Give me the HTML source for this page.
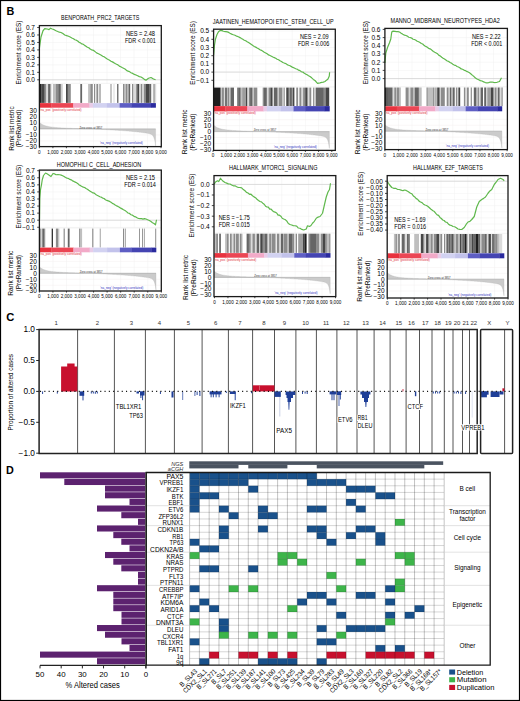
<!DOCTYPE html>
<html><head><meta charset="utf-8"><style>html,body{margin:0;padding:0;background:#fff;overflow:hidden}svg{display:block}text{font-family:"Liberation Sans",sans-serif}</style></head><body>
<svg width="520" height="701" viewBox="0 0 520 701">
<rect x="0" y="0" width="520" height="701" fill="#fff"/>
<line x1="52.91" y1="26.6" x2="52.91" y2="83.8" stroke="#f1f1f1" stroke-width="0.5"/>
<line x1="52.91" y1="108.2" x2="52.91" y2="146.6" stroke="#f1f1f1" stroke-width="0.5"/>
<line x1="66.42" y1="26.6" x2="66.42" y2="83.8" stroke="#f1f1f1" stroke-width="0.5"/>
<line x1="66.42" y1="108.2" x2="66.42" y2="146.6" stroke="#f1f1f1" stroke-width="0.5"/>
<line x1="79.93" y1="26.6" x2="79.93" y2="83.8" stroke="#f1f1f1" stroke-width="0.5"/>
<line x1="79.93" y1="108.2" x2="79.93" y2="146.6" stroke="#f1f1f1" stroke-width="0.5"/>
<line x1="93.44" y1="26.6" x2="93.44" y2="83.8" stroke="#f1f1f1" stroke-width="0.5"/>
<line x1="93.44" y1="108.2" x2="93.44" y2="146.6" stroke="#f1f1f1" stroke-width="0.5"/>
<line x1="106.96" y1="26.6" x2="106.96" y2="83.8" stroke="#f1f1f1" stroke-width="0.5"/>
<line x1="106.96" y1="108.2" x2="106.96" y2="146.6" stroke="#f1f1f1" stroke-width="0.5"/>
<line x1="120.47" y1="26.6" x2="120.47" y2="83.8" stroke="#f1f1f1" stroke-width="0.5"/>
<line x1="120.47" y1="108.2" x2="120.47" y2="146.6" stroke="#f1f1f1" stroke-width="0.5"/>
<line x1="133.98" y1="26.6" x2="133.98" y2="83.8" stroke="#f1f1f1" stroke-width="0.5"/>
<line x1="133.98" y1="108.2" x2="133.98" y2="146.6" stroke="#f1f1f1" stroke-width="0.5"/>
<line x1="147.49" y1="26.6" x2="147.49" y2="83.8" stroke="#f1f1f1" stroke-width="0.5"/>
<line x1="147.49" y1="108.2" x2="147.49" y2="146.6" stroke="#f1f1f1" stroke-width="0.5"/>
<line x1="39.4" y1="79.8" x2="161.3" y2="79.8" stroke="#f1f1f1" stroke-width="0.5"/>
<line x1="39.4" y1="72.33" x2="161.3" y2="72.33" stroke="#f1f1f1" stroke-width="0.5"/>
<line x1="39.4" y1="64.86" x2="161.3" y2="64.86" stroke="#f1f1f1" stroke-width="0.5"/>
<line x1="39.4" y1="57.39" x2="161.3" y2="57.39" stroke="#f1f1f1" stroke-width="0.5"/>
<line x1="39.4" y1="49.92" x2="161.3" y2="49.92" stroke="#f1f1f1" stroke-width="0.5"/>
<line x1="39.4" y1="42.45" x2="161.3" y2="42.45" stroke="#f1f1f1" stroke-width="0.5"/>
<line x1="39.4" y1="34.98" x2="161.3" y2="34.98" stroke="#f1f1f1" stroke-width="0.5"/>
<line x1="39.4" y1="27.51" x2="161.3" y2="27.51" stroke="#f1f1f1" stroke-width="0.5"/>
<line x1="39.4" y1="79.8" x2="161.3" y2="79.8" stroke="#c8c8c8" stroke-width="0.6"/>
<line x1="39.4" y1="116.9" x2="161.3" y2="116.9" stroke="#f3eeee" stroke-width="0.5"/>
<line x1="39.4" y1="122.9" x2="161.3" y2="122.9" stroke="#f3eeee" stroke-width="0.5"/>
<line x1="39.4" y1="134.9" x2="161.3" y2="134.9" stroke="#f3eeee" stroke-width="0.5"/>
<line x1="39.4" y1="140.9" x2="161.3" y2="140.9" stroke="#f3eeee" stroke-width="0.5"/>
<line x1="39.4" y1="83.3" x2="161.3" y2="83.3" stroke="#e4e4e4" stroke-width="0.5"/>
<rect x="39.4" y="84" width="2.1" height="18.9" fill="#000" fill-opacity="0.88"/>
<rect x="41.5" y="84" width="3.1" height="18.9" fill="#000" fill-opacity="0.72"/>
<rect x="44.6" y="84" width="1.5" height="18.9" fill="#000" fill-opacity="0.45"/>
<rect x="46.1" y="84" width="2" height="18.9" fill="#000" fill-opacity="0.14"/>
<rect x="48.1" y="84" width="2.4" height="18.9" fill="#000" fill-opacity="0.6"/>
<rect x="50.5" y="84" width="1.2" height="18.9" fill="#000" fill-opacity="0.14"/>
<rect x="52.9" y="84" width="3" height="18.9" fill="#000" fill-opacity="0.25"/>
<rect x="55.9" y="84" width="2.4" height="18.9" fill="#000" fill-opacity="0.45"/>
<rect x="58.3" y="84" width="2.3" height="18.9" fill="#000" fill-opacity="0.6"/>
<rect x="60.6" y="84" width="0.6" height="18.9" fill="#000" fill-opacity="0.45"/>
<rect x="61.2" y="84" width="1.8" height="18.9" fill="#000" fill-opacity="0.14"/>
<rect x="66" y="84" width="1.8" height="18.9" fill="#000" fill-opacity="0.72"/>
<rect x="67.8" y="84" width="3" height="18.9" fill="#000" fill-opacity="0.45"/>
<rect x="80.3" y="84" width="1.8" height="18.9" fill="#000" fill-opacity="0.6"/>
<rect x="88.1" y="84" width="2.3" height="18.9" fill="#000" fill-opacity="0.25"/>
<rect x="90.4" y="84" width="2.4" height="18.9" fill="#000" fill-opacity="0.45"/>
<rect x="94" y="84" width="1.2" height="18.9" fill="#000" fill-opacity="0.45"/>
<rect x="96.4" y="84" width="1.8" height="18.9" fill="#000" fill-opacity="0.45"/>
<rect x="99.4" y="84" width="1.2" height="18.9" fill="#000" fill-opacity="0.45"/>
<rect x="110.5" y="84" width="1" height="18.9" fill="#000" fill-opacity="0.45"/>
<rect x="113.5" y="84" width="1" height="18.9" fill="#000" fill-opacity="0.14"/>
<rect x="117.1" y="84" width="1.2" height="18.9" fill="#000" fill-opacity="0.6"/>
<rect x="118.3" y="84" width="0.7" height="18.9" fill="#000" fill-opacity="0.14"/>
<rect x="123" y="84" width="1.2" height="18.9" fill="#000" fill-opacity="0.45"/>
<rect x="124.2" y="84" width="1.8" height="18.9" fill="#000" fill-opacity="0.25"/>
<rect x="126" y="84" width="1.2" height="18.9" fill="#000" fill-opacity="0.45"/>
<rect x="127.2" y="84" width="0.8" height="18.9" fill="#000" fill-opacity="0.25"/>
<rect x="128.4" y="84" width="1.8" height="18.9" fill="#000" fill-opacity="0.6"/>
<rect x="132" y="84" width="1.2" height="18.9" fill="#000" fill-opacity="0.45"/>
<rect x="133.2" y="84" width="2.9" height="18.9" fill="#000" fill-opacity="0.14"/>
<rect x="136.1" y="84" width="1.2" height="18.9" fill="#000" fill-opacity="0.45"/>
<rect x="137.3" y="84" width="1.8" height="18.9" fill="#000" fill-opacity="0.72"/>
<rect x="139.1" y="84" width="1.8" height="18.9" fill="#000" fill-opacity="0.14"/>
<rect x="140.9" y="84" width="1.2" height="18.9" fill="#000" fill-opacity="0.45"/>
<rect x="142.1" y="84" width="1.8" height="18.9" fill="#000" fill-opacity="0.14"/>
<rect x="143.9" y="84" width="1.8" height="18.9" fill="#000" fill-opacity="0.45"/>
<rect x="145.7" y="84" width="3.6" height="18.9" fill="#000" fill-opacity="0.72"/>
<rect x="149.3" y="84" width="1.7" height="18.9" fill="#000" fill-opacity="0.6"/>
<rect x="151" y="84" width="1.2" height="18.9" fill="#000" fill-opacity="0.14"/>
<rect x="153.4" y="84" width="1.2" height="18.9" fill="#000" fill-opacity="0.45"/>
<rect x="154.6" y="84" width="1.6" height="18.9" fill="#000" fill-opacity="0.14"/>
<rect x="39.6" y="103.1" width="11.9" height="4.6" fill="#e8323e"/>
<rect x="51.2" y="103.1" width="22.34" height="4.6" fill="#eb4654"/>
<rect x="73.24" y="103.1" width="16.54" height="4.6" fill="#f2aac8"/>
<rect x="89.48" y="103.1" width="3.78" height="4.6" fill="#e8cce8"/>
<rect x="92.96" y="103.1" width="14.22" height="4.6" fill="#d2d2f1"/>
<rect x="106.88" y="103.1" width="13.06" height="4.6" fill="#c2c2eb"/>
<rect x="119.64" y="103.1" width="11.9" height="4.6" fill="#5e5ec4"/>
<rect x="131.24" y="103.1" width="20.02" height="4.6" fill="#4444b2"/>
<rect x="150.96" y="103.1" width="4.94" height="4.6" fill="#2a2a9e"/>
<polygon points="39.6,128.9 39.6,122.6 40.13,123.04 40.65,123.44 41.18,123.8 41.71,124.13 42.24,124.43 42.76,124.71 43.29,124.96 43.82,125.18 44.35,125.39 44.87,125.58 45.4,125.76 45.93,125.92 46.45,126.06 46.98,126.2 47.51,126.32 48.04,126.44 48.56,126.55 49.09,126.65 49.62,126.74 50.15,126.83 50.67,126.91 51.2,126.99 51.73,127.06 52.25,127.13 52.78,127.19 53.31,127.25 53.84,127.31 54.36,127.36 54.89,127.41 55.42,127.46 55.95,127.51 56.47,127.55 57,127.6 57.53,127.64 58.05,127.68 58.58,127.72 59.11,127.75 59.64,127.79 60.16,127.82 60.69,127.85 61.22,127.89 61.75,127.92 62.27,127.95 62.8,127.98 63.33,128.01 63.85,128.03 64.38,128.06 64.91,128.09 65.44,128.11 65.96,128.14 66.49,128.16 67.02,128.18 67.55,128.21 68.07,128.23 68.6,128.25 69.13,128.27 69.65,128.29 70.18,128.32 70.71,128.34 71.24,128.36 71.76,128.37 72.29,128.39 72.82,128.41 73.35,128.43 73.87,128.45 74.4,128.47 74.93,128.48 75.45,128.5 75.98,128.52 76.51,128.53 77.04,128.55 77.56,128.57 78.09,128.58 78.62,128.6 79.15,128.61 79.67,128.63 80.2,128.64 80.73,128.65 81.25,128.67 81.78,128.68 82.31,128.7 82.84,128.71 83.36,128.72 83.89,128.73 84.42,128.75 84.95,128.76 85.47,128.77 86,128.78 86.53,128.8 87.05,128.81 87.58,128.82 88.11,128.83 88.64,128.84 89.16,128.85 89.69,128.86 90.22,128.87 90.75,128.88 91.27,128.89 91.8,128.91 92.33,128.94 92.85,128.96 93.38,128.99 93.91,129.02 94.44,129.05 94.96,129.07 95.49,129.1 96.02,129.13 96.55,129.15 97.07,129.18 97.6,129.21 98.13,129.24 98.65,129.26 99.18,129.29 99.71,129.32 100.24,129.35 100.76,129.37 101.29,129.4 101.82,129.43 102.35,129.46 102.87,129.48 103.4,129.51 103.93,129.54 104.45,129.57 104.98,129.59 105.51,129.62 106.04,129.65 106.56,129.68 107.09,129.71 107.62,129.74 108.15,129.76 108.67,129.79 109.2,129.82 109.73,129.85 110.25,129.88 110.78,129.91 111.31,129.94 111.84,129.97 112.36,130 112.89,130.03 113.42,130.06 113.95,130.09 114.47,130.12 115,130.15 115.53,130.18 116.05,130.22 116.58,130.25 117.11,130.28 117.64,130.31 118.16,130.35 118.69,130.38 119.22,130.41 119.75,130.45 120.27,130.48 120.8,130.52 121.33,130.55 121.85,130.59 122.38,130.62 122.91,130.66 123.44,130.7 123.96,130.74 124.49,130.78 125.02,130.81 125.55,130.85 126.07,130.89 126.6,130.93 127.13,130.98 127.65,131.02 128.18,131.06 128.71,131.1 129.24,131.15 129.76,131.19 130.29,131.24 130.82,131.29 131.35,131.33 131.87,131.38 132.4,131.43 132.93,131.48 133.45,131.53 133.98,131.58 134.51,131.63 135.04,131.69 135.56,131.74 136.09,131.8 136.62,131.85 137.15,131.91 137.67,131.97 138.2,132.03 138.73,132.09 139.25,132.15 139.78,132.21 140.31,132.28 140.84,132.34 141.36,132.41 141.89,132.48 142.42,132.55 142.95,132.62 143.47,132.69 144,132.76 144.53,132.84 145.05,132.92 145.58,133 146.11,133.08 146.64,133.16 147.16,133.25 147.69,133.35 148.22,133.45 148.75,133.56 149.27,133.68 149.8,133.82 150.33,133.99 150.85,134.19 151.38,134.44 151.91,134.77 152.44,135.22 152.96,135.83 153.49,136.68 154.02,137.89 154.55,139.62 155.07,142.12 155.6,145.76 155.6,128.9" fill="#cbcbcb" stroke="#b0b0b0" stroke-width="0.3"/>
<line x1="39.6" y1="128.9" x2="155.6" y2="128.9" stroke="#9a9a9a" stroke-width="0.4"/>
<text x="39.9" y="110.7" font-size="2.9" fill="#e0303c" textLength="41.76" lengthAdjust="spacingAndGlyphs">'na_pos' (positively correlated)</text>
<text x="79.62" y="128.6" font-size="2.7" fill="#333" textLength="22.62" lengthAdjust="spacingAndGlyphs">Zero cross at 3857</text>
<text x="121.38" y="144.2" font-size="2.9" text-anchor="middle" fill="#3030c0" textLength="42.92" lengthAdjust="spacingAndGlyphs">'na_neg' (negatively correlated)</text>
<polyline points="39.4,48.25 41,37 43,30.75 44.75,28.6 47.25,29 49,29.6 50.5,28.2 52.25,29 54.12,29.66 56,30.75 57.67,31.54 59.33,32.07 61,32.5 62.88,33.6 64.75,35 66.62,35.62 68.5,36.25 70.17,37.05 71.83,38.01 73.5,38.75 74.89,39.76 76.28,40.17 77.67,40.97 79.06,42.28 80.44,42.88 81.83,43.91 83.22,44.28 84.61,45.38 86,46.25 87.39,47.22 88.78,47.75 90.17,49.02 91.56,49.82 92.94,50.14 94.33,50.97 95.72,52.11 97.11,53.18 98.5,53.75 99.89,54.51 101.28,55.25 102.67,56.2 104.06,56.8 105.44,57.75 106.83,58.71 108.22,59.58 109.61,60.26 111,61.25 112.39,61.87 113.78,62.64 115.17,63.56 116.56,64.23 117.94,64.85 119.33,66.12 120.72,66.73 122.11,67.56 123.5,68.25 125,68.96 126.5,70.35 128,71.17 129.5,71.62 131,72.75 132.67,73.4 134.33,74.38 136,75 137.67,75.79 139.33,76.6 141,77 142.67,78.04 144.33,79.36 146,80.25 148.5,78.25 151,77.5 153.5,79 155.6,79.8" fill="none" stroke="#5fb84c" stroke-width="1.2" stroke-linejoin="round"/>
<rect x="39.4" y="25.6" width="121.9" height="121" fill="none" stroke="#1a1a1a" stroke-width="1.3"/>
<line x1="37.2" y1="79.8" x2="39.4" y2="79.8" stroke="#1a1a1a" stroke-width="0.8"/>
<text x="35" y="82.1" font-size="6.5" text-anchor="end">0.0</text>
<line x1="37.2" y1="72.33" x2="39.4" y2="72.33" stroke="#1a1a1a" stroke-width="0.8"/>
<text x="35" y="74.63" font-size="6.5" text-anchor="end">0.1</text>
<line x1="37.2" y1="64.86" x2="39.4" y2="64.86" stroke="#1a1a1a" stroke-width="0.8"/>
<text x="35" y="67.16" font-size="6.5" text-anchor="end">0.2</text>
<line x1="37.2" y1="57.39" x2="39.4" y2="57.39" stroke="#1a1a1a" stroke-width="0.8"/>
<text x="35" y="59.69" font-size="6.5" text-anchor="end">0.3</text>
<line x1="37.2" y1="49.92" x2="39.4" y2="49.92" stroke="#1a1a1a" stroke-width="0.8"/>
<text x="35" y="52.22" font-size="6.5" text-anchor="end">0.4</text>
<line x1="37.2" y1="42.45" x2="39.4" y2="42.45" stroke="#1a1a1a" stroke-width="0.8"/>
<text x="35" y="44.75" font-size="6.5" text-anchor="end">0.5</text>
<line x1="37.2" y1="34.98" x2="39.4" y2="34.98" stroke="#1a1a1a" stroke-width="0.8"/>
<text x="35" y="37.28" font-size="6.5" text-anchor="end">0.6</text>
<line x1="37.2" y1="27.51" x2="39.4" y2="27.51" stroke="#1a1a1a" stroke-width="0.8"/>
<text x="35" y="29.81" font-size="6.5" text-anchor="end">0.7</text>
<text x="36.8" y="113.2" font-size="6.5" text-anchor="end">30</text>
<text x="36.8" y="119.2" font-size="6.5" text-anchor="end">20</text>
<text x="36.8" y="125.2" font-size="6.5" text-anchor="end">10</text>
<text x="36.8" y="131.2" font-size="6.5" text-anchor="end">0</text>
<text x="36.8" y="137.2" font-size="6.5" text-anchor="end">−10</text>
<text x="36.8" y="143.2" font-size="6.5" text-anchor="end">−20</text>
<text x="36.8" y="149.2" font-size="6.5" text-anchor="end">−30</text>
<line x1="39.4" y1="146.6" x2="39.4" y2="148.2" stroke="#1a1a1a" stroke-width="0.8"/>
<text x="39.4" y="153.5" font-size="4.6" text-anchor="middle">0</text>
<line x1="52.91" y1="146.6" x2="52.91" y2="148.2" stroke="#1a1a1a" stroke-width="0.8"/>
<text x="52.91" y="153.5" font-size="4.6" text-anchor="middle">1,000</text>
<line x1="66.42" y1="146.6" x2="66.42" y2="148.2" stroke="#1a1a1a" stroke-width="0.8"/>
<text x="66.42" y="153.5" font-size="4.6" text-anchor="middle">2,000</text>
<line x1="79.93" y1="146.6" x2="79.93" y2="148.2" stroke="#1a1a1a" stroke-width="0.8"/>
<text x="79.93" y="153.5" font-size="4.6" text-anchor="middle">3,000</text>
<line x1="93.44" y1="146.6" x2="93.44" y2="148.2" stroke="#1a1a1a" stroke-width="0.8"/>
<text x="93.44" y="153.5" font-size="4.6" text-anchor="middle">4,000</text>
<line x1="106.96" y1="146.6" x2="106.96" y2="148.2" stroke="#1a1a1a" stroke-width="0.8"/>
<text x="106.96" y="153.5" font-size="4.6" text-anchor="middle">5,000</text>
<line x1="120.47" y1="146.6" x2="120.47" y2="148.2" stroke="#1a1a1a" stroke-width="0.8"/>
<text x="120.47" y="153.5" font-size="4.6" text-anchor="middle">6,000</text>
<line x1="133.98" y1="146.6" x2="133.98" y2="148.2" stroke="#1a1a1a" stroke-width="0.8"/>
<text x="133.98" y="153.5" font-size="4.6" text-anchor="middle">7,000</text>
<line x1="147.49" y1="146.6" x2="147.49" y2="148.2" stroke="#1a1a1a" stroke-width="0.8"/>
<text x="147.49" y="153.5" font-size="4.6" text-anchor="middle">8,000</text>
<line x1="161" y1="146.6" x2="161" y2="148.2" stroke="#1a1a1a" stroke-width="0.8"/>
<text x="161" y="153.5" font-size="4.6" text-anchor="middle">9,000</text>
<text x="100.2" y="20.4" font-size="6.4" text-anchor="middle" textLength="78.2" lengthAdjust="spacingAndGlyphs">BENPORATH_PRC2_TARGETS</text>
<text x="140.45" y="35.8" font-size="6.3" text-anchor="middle" textLength="29.1" lengthAdjust="spacingAndGlyphs">NES = 2.48</text>
<text x="140.45" y="42.9" font-size="6.3" text-anchor="middle" textLength="30.9" lengthAdjust="spacingAndGlyphs">FDR &lt; 0.001</text>
<text x="21.12" y="52.6" font-size="7.1" text-anchor="middle" textLength="63.9" lengthAdjust="spacingAndGlyphs" transform="rotate(-90 21.12 52.6)">Enrichment score (ES)</text>
<text x="13.66" y="128.5" font-size="7.1" text-anchor="middle" textLength="44.5" lengthAdjust="spacingAndGlyphs" transform="rotate(-90 13.66 128.5)">Rank list metric</text>
<text x="21.32" y="128.5" font-size="7.1" text-anchor="middle" textLength="37.7" lengthAdjust="spacingAndGlyphs" transform="rotate(-90 21.32 128.5)">(PreRanked)</text>
<line x1="226.2" y1="30.2" x2="226.2" y2="87" stroke="#f1f1f1" stroke-width="0.5"/>
<line x1="226.2" y1="111.9" x2="226.2" y2="150.4" stroke="#f1f1f1" stroke-width="0.5"/>
<line x1="239.4" y1="30.2" x2="239.4" y2="87" stroke="#f1f1f1" stroke-width="0.5"/>
<line x1="239.4" y1="111.9" x2="239.4" y2="150.4" stroke="#f1f1f1" stroke-width="0.5"/>
<line x1="252.6" y1="30.2" x2="252.6" y2="87" stroke="#f1f1f1" stroke-width="0.5"/>
<line x1="252.6" y1="111.9" x2="252.6" y2="150.4" stroke="#f1f1f1" stroke-width="0.5"/>
<line x1="265.8" y1="30.2" x2="265.8" y2="87" stroke="#f1f1f1" stroke-width="0.5"/>
<line x1="265.8" y1="111.9" x2="265.8" y2="150.4" stroke="#f1f1f1" stroke-width="0.5"/>
<line x1="279" y1="30.2" x2="279" y2="87" stroke="#f1f1f1" stroke-width="0.5"/>
<line x1="279" y1="111.9" x2="279" y2="150.4" stroke="#f1f1f1" stroke-width="0.5"/>
<line x1="292.2" y1="30.2" x2="292.2" y2="87" stroke="#f1f1f1" stroke-width="0.5"/>
<line x1="292.2" y1="111.9" x2="292.2" y2="150.4" stroke="#f1f1f1" stroke-width="0.5"/>
<line x1="305.4" y1="30.2" x2="305.4" y2="87" stroke="#f1f1f1" stroke-width="0.5"/>
<line x1="305.4" y1="111.9" x2="305.4" y2="150.4" stroke="#f1f1f1" stroke-width="0.5"/>
<line x1="318.6" y1="30.2" x2="318.6" y2="87" stroke="#f1f1f1" stroke-width="0.5"/>
<line x1="318.6" y1="111.9" x2="318.6" y2="150.4" stroke="#f1f1f1" stroke-width="0.5"/>
<line x1="213.6" y1="80.3" x2="335.3" y2="80.3" stroke="#f1f1f1" stroke-width="0.5"/>
<line x1="213.6" y1="72.1" x2="335.3" y2="72.1" stroke="#f1f1f1" stroke-width="0.5"/>
<line x1="213.6" y1="63.9" x2="335.3" y2="63.9" stroke="#f1f1f1" stroke-width="0.5"/>
<line x1="213.6" y1="55.7" x2="335.3" y2="55.7" stroke="#f1f1f1" stroke-width="0.5"/>
<line x1="213.6" y1="47.5" x2="335.3" y2="47.5" stroke="#f1f1f1" stroke-width="0.5"/>
<line x1="213.6" y1="39.3" x2="335.3" y2="39.3" stroke="#f1f1f1" stroke-width="0.5"/>
<line x1="213.6" y1="31.1" x2="335.3" y2="31.1" stroke="#f1f1f1" stroke-width="0.5"/>
<line x1="213.6" y1="72.1" x2="335.3" y2="72.1" stroke="#c8c8c8" stroke-width="0.6"/>
<line x1="213.6" y1="119.68" x2="335.3" y2="119.68" stroke="#f3eeee" stroke-width="0.5"/>
<line x1="213.6" y1="125.64" x2="335.3" y2="125.64" stroke="#f3eeee" stroke-width="0.5"/>
<line x1="213.6" y1="137.56" x2="335.3" y2="137.56" stroke="#f3eeee" stroke-width="0.5"/>
<line x1="213.6" y1="143.52" x2="335.3" y2="143.52" stroke="#f3eeee" stroke-width="0.5"/>
<line x1="213.6" y1="86.9" x2="335.3" y2="86.9" stroke="#e4e4e4" stroke-width="0.5"/>
<rect x="213.6" y="87.6" width="7" height="18.4" fill="#000" fill-opacity="0.88"/>
<rect x="221.5" y="87.6" width="2.4" height="18.4" fill="#000" fill-opacity="0.45"/>
<rect x="223.9" y="87.6" width="1.2" height="18.4" fill="#000" fill-opacity="0.14"/>
<rect x="225.1" y="87.6" width="1.8" height="18.4" fill="#000" fill-opacity="0.6"/>
<rect x="226.9" y="87.6" width="0.6" height="18.4" fill="#000" fill-opacity="0.14"/>
<rect x="227.5" y="87.6" width="1.8" height="18.4" fill="#000" fill-opacity="0.45"/>
<rect x="229.3" y="87.6" width="1.2" height="18.4" fill="#000" fill-opacity="0.14"/>
<rect x="230.5" y="87.6" width="3.5" height="18.4" fill="#000" fill-opacity="0.6"/>
<rect x="237" y="87.6" width="1.2" height="18.4" fill="#000" fill-opacity="0.45"/>
<rect x="238.2" y="87.6" width="2.4" height="18.4" fill="#000" fill-opacity="0.6"/>
<rect x="240.6" y="87.6" width="1.8" height="18.4" fill="#000" fill-opacity="0.25"/>
<rect x="242.4" y="87.6" width="1.2" height="18.4" fill="#000" fill-opacity="0.45"/>
<rect x="243.6" y="87.6" width="2.4" height="18.4" fill="#000" fill-opacity="0.38"/>
<rect x="246" y="87.6" width="1.2" height="18.4" fill="#000" fill-opacity="0.72"/>
<rect x="247.2" y="87.6" width="1.8" height="18.4" fill="#000" fill-opacity="0.14"/>
<rect x="249" y="87.6" width="1.1" height="18.4" fill="#000" fill-opacity="0.45"/>
<rect x="250.1" y="87.6" width="2.4" height="18.4" fill="#000" fill-opacity="0.6"/>
<rect x="252.5" y="87.6" width="1.2" height="18.4" fill="#000" fill-opacity="0.14"/>
<rect x="253.7" y="87.6" width="3.6" height="18.4" fill="#000" fill-opacity="0.45"/>
<rect x="262.7" y="87.6" width="1.1" height="18.4" fill="#000" fill-opacity="0.45"/>
<rect x="263.8" y="87.6" width="3" height="18.4" fill="#000" fill-opacity="0.6"/>
<rect x="266.8" y="87.6" width="1.8" height="18.4" fill="#000" fill-opacity="0.14"/>
<rect x="268.6" y="87.6" width="1.8" height="18.4" fill="#000" fill-opacity="0.45"/>
<rect x="270.4" y="87.6" width="2.1" height="18.4" fill="#000" fill-opacity="0.72"/>
<rect x="272.5" y="87.6" width="1.5" height="18.4" fill="#000" fill-opacity="0.14"/>
<rect x="274" y="87.6" width="3.5" height="18.4" fill="#000" fill-opacity="0.6"/>
<rect x="277.5" y="87.6" width="1.25" height="18.4" fill="#000" fill-opacity="0.14"/>
<rect x="278.75" y="87.6" width="3.75" height="18.4" fill="#000" fill-opacity="0.45"/>
<rect x="283.5" y="87.6" width="1.25" height="18.4" fill="#000" fill-opacity="0.45"/>
<rect x="286.25" y="87.6" width="2.5" height="18.4" fill="#000" fill-opacity="0.72"/>
<rect x="288.75" y="87.6" width="0.65" height="18.4" fill="#000" fill-opacity="0.14"/>
<rect x="289.4" y="87.6" width="2.5" height="18.4" fill="#000" fill-opacity="0.6"/>
<rect x="291.9" y="87.6" width="0.6" height="18.4" fill="#000" fill-opacity="0.14"/>
<rect x="292.5" y="87.6" width="1.9" height="18.4" fill="#000" fill-opacity="0.72"/>
<rect x="296.25" y="87.6" width="1.85" height="18.4" fill="#000" fill-opacity="0.45"/>
<rect x="299.4" y="87.6" width="1.85" height="18.4" fill="#000" fill-opacity="0.45"/>
<rect x="301.25" y="87.6" width="1.85" height="18.4" fill="#000" fill-opacity="0.14"/>
<rect x="303.1" y="87.6" width="2.15" height="18.4" fill="#000" fill-opacity="0.45"/>
<rect x="305.25" y="87.6" width="2.25" height="18.4" fill="#000" fill-opacity="0.72"/>
<rect x="307.5" y="87.6" width="1.9" height="18.4" fill="#000" fill-opacity="0.14"/>
<rect x="309.4" y="87.6" width="1.85" height="18.4" fill="#000" fill-opacity="0.45"/>
<rect x="313.1" y="87.6" width="1.3" height="18.4" fill="#000" fill-opacity="0.45"/>
<rect x="315.6" y="87.6" width="8.15" height="18.4" fill="#000" fill-opacity="0.6"/>
<rect x="323.75" y="87.6" width="1.85" height="18.4" fill="#000" fill-opacity="0.45"/>
<rect x="325.6" y="87.6" width="3.6" height="18.4" fill="#000" fill-opacity="0.72"/>
<rect x="213.8" y="106.1" width="11.86" height="5.3" fill="#e8323e"/>
<rect x="225.36" y="106.1" width="22.26" height="5.3" fill="#eb4654"/>
<rect x="247.32" y="106.1" width="16.48" height="5.3" fill="#f2aac8"/>
<rect x="263.51" y="106.1" width="3.77" height="5.3" fill="#e8cce8"/>
<rect x="266.98" y="106.1" width="14.17" height="5.3" fill="#d2d2f1"/>
<rect x="280.85" y="106.1" width="13.02" height="5.3" fill="#c2c2eb"/>
<rect x="293.56" y="106.1" width="11.86" height="5.3" fill="#5e5ec4"/>
<rect x="305.12" y="106.1" width="19.95" height="5.3" fill="#4444b2"/>
<rect x="324.78" y="106.1" width="4.92" height="5.3" fill="#2a2a9e"/>
<polygon points="213.8,131.6 213.8,125.34 214.33,125.78 214.85,126.18 215.38,126.54 215.9,126.87 216.43,127.16 216.95,127.44 217.48,127.68 218,127.91 218.53,128.11 219.05,128.3 219.58,128.48 220.11,128.64 220.63,128.78 221.16,128.92 221.68,129.04 222.21,129.16 222.73,129.26 223.26,129.36 223.78,129.46 224.31,129.54 224.83,129.62 225.36,129.7 225.89,129.77 226.41,129.84 226.94,129.9 227.46,129.96 227.99,130.02 228.51,130.07 229.04,130.12 229.56,130.17 230.09,130.22 230.61,130.26 231.14,130.31 231.67,130.35 232.19,130.39 232.72,130.42 233.24,130.46 233.77,130.5 234.29,130.53 234.82,130.56 235.34,130.59 235.87,130.62 236.39,130.65 236.92,130.68 237.45,130.71 237.97,130.74 238.5,130.77 239.02,130.79 239.55,130.82 240.07,130.84 240.6,130.87 241.12,130.89 241.65,130.91 242.17,130.93 242.7,130.96 243.23,130.98 243.75,131 244.28,131.02 244.8,131.04 245.33,131.06 245.85,131.08 246.38,131.1 246.9,131.12 247.43,131.13 247.95,131.15 248.48,131.17 249.01,131.19 249.53,131.2 250.06,131.22 250.58,131.24 251.11,131.25 251.63,131.27 252.16,131.28 252.68,131.3 253.21,131.31 253.73,131.33 254.26,131.34 254.79,131.36 255.31,131.37 255.84,131.38 256.36,131.4 256.89,131.41 257.41,131.42 257.94,131.44 258.46,131.45 258.99,131.46 259.51,131.47 260.04,131.48 260.57,131.5 261.09,131.51 261.62,131.52 262.14,131.53 262.67,131.54 263.19,131.55 263.72,131.56 264.24,131.57 264.77,131.58 265.29,131.59 265.82,131.61 266.35,131.64 266.87,131.66 267.4,131.69 267.92,131.72 268.45,131.74 268.97,131.77 269.5,131.8 270.02,131.83 270.55,131.85 271.07,131.88 271.6,131.91 272.13,131.93 272.65,131.96 273.18,131.99 273.7,132.01 274.23,132.04 274.75,132.07 275.28,132.1 275.8,132.12 276.33,132.15 276.85,132.18 277.38,132.21 277.91,132.23 278.43,132.26 278.96,132.29 279.48,132.32 280.01,132.35 280.53,132.37 281.06,132.4 281.58,132.43 282.11,132.46 282.63,132.49 283.16,132.52 283.69,132.54 284.21,132.57 284.74,132.6 285.26,132.63 285.79,132.66 286.31,132.69 286.84,132.72 287.36,132.75 287.89,132.78 288.41,132.81 288.94,132.84 289.47,132.87 289.99,132.91 290.52,132.94 291.04,132.97 291.57,133 292.09,133.04 292.62,133.07 293.14,133.1 293.67,133.14 294.19,133.17 294.72,133.21 295.25,133.24 295.77,133.28 296.3,133.31 296.82,133.35 297.35,133.39 297.87,133.42 298.4,133.46 298.92,133.5 299.45,133.54 299.97,133.58 300.5,133.62 301.03,133.66 301.55,133.7 302.08,133.75 302.6,133.79 303.13,133.83 303.65,133.88 304.18,133.92 304.7,133.97 305.23,134.02 305.75,134.06 306.28,134.11 306.81,134.16 307.33,134.21 307.86,134.26 308.38,134.31 308.91,134.37 309.43,134.42 309.96,134.48 310.48,134.53 311.01,134.59 311.53,134.65 312.06,134.71 312.59,134.77 313.11,134.83 313.64,134.89 314.16,134.95 314.69,135.02 315.21,135.09 315.74,135.15 316.26,135.22 316.79,135.29 317.31,135.36 317.84,135.44 318.37,135.51 318.89,135.59 319.42,135.67 319.94,135.75 320.47,135.84 320.99,135.92 321.52,136.02 322.04,136.12 322.57,136.23 323.09,136.35 323.62,136.49 324.15,136.65 324.67,136.85 325.2,137.11 325.72,137.44 326.25,137.88 326.77,138.48 327.3,139.33 327.82,140.53 328.35,142.25 328.87,144.74 329.4,148.35 329.4,131.6" fill="#cbcbcb" stroke="#b0b0b0" stroke-width="0.3"/>
<line x1="213.8" y1="131.6" x2="329.4" y2="131.6" stroke="#9a9a9a" stroke-width="0.4"/>
<text x="214.1" y="114.4" font-size="2.9" fill="#e0303c" textLength="41.62" lengthAdjust="spacingAndGlyphs">'na_pos' (positively correlated)</text>
<text x="253.65" y="131.3" font-size="2.7" fill="#333" textLength="22.54" lengthAdjust="spacingAndGlyphs">Zero cross at 3857</text>
<text x="295.3" y="148" font-size="2.9" text-anchor="middle" fill="#3030c0" textLength="42.77" lengthAdjust="spacingAndGlyphs">'na_neg' (negatively correlated)</text>
<polyline points="213.6,55.3 214.5,45 215.5,39 217,34.5 218.5,31.8 220.2,30.4 222,30.6 223.33,31.21 224.67,31.54 226,31.6 227.33,31.87 228.67,32.42 230,33.2 231.67,34.1 233.33,34.74 235,35.3 236.67,36.17 238.33,36.72 240,37.6 241.43,38.51 242.86,39.35 244.29,40.18 245.71,40.77 247.14,41.77 248.57,42.59 250,43.5 251.43,44.53 252.86,45.6 254.29,46.47 255.71,47.13 257.14,47.97 258.57,48.76 260,49.8 261.43,50.34 262.86,51.15 264.29,52.22 265.71,52.95 267.14,53.8 268.57,54.92 270,55.5 271.43,56.27 272.86,57.05 274.29,57.61 275.71,58.24 277.14,59.18 278.57,59.82 280,60.8 281.43,61.52 282.86,62.53 284.29,63.05 285.71,63.47 287.14,64.61 288.57,65.26 290,65.8 291.43,66.63 292.86,67.42 294.29,68.01 295.71,68.72 297.14,69.14 298.57,70.2 300,70.6 301.43,71.72 302.86,72.08 304.29,73.28 305.71,74.1 307.14,74.79 308.57,75.68 310,76.5 311.67,77.83 313.33,79.42 315,80.5 317.5,83.3 320,82.8 321.67,82.37 323.33,82.13 325,81.5 326.5,80.16 328,79 329.3,76 329.6,72.3" fill="none" stroke="#5fb84c" stroke-width="1.2" stroke-linejoin="round"/>
<rect x="213.6" y="29.2" width="121.7" height="121.2" fill="none" stroke="#1a1a1a" stroke-width="1.3"/>
<line x1="211.4" y1="80.3" x2="213.6" y2="80.3" stroke="#1a1a1a" stroke-width="0.8"/>
<text x="209.2" y="82.6" font-size="6.5" text-anchor="end">−0.1</text>
<line x1="211.4" y1="72.1" x2="213.6" y2="72.1" stroke="#1a1a1a" stroke-width="0.8"/>
<text x="209.2" y="74.4" font-size="6.5" text-anchor="end">0.0</text>
<line x1="211.4" y1="63.9" x2="213.6" y2="63.9" stroke="#1a1a1a" stroke-width="0.8"/>
<text x="209.2" y="66.2" font-size="6.5" text-anchor="end">0.1</text>
<line x1="211.4" y1="55.7" x2="213.6" y2="55.7" stroke="#1a1a1a" stroke-width="0.8"/>
<text x="209.2" y="58" font-size="6.5" text-anchor="end">0.2</text>
<line x1="211.4" y1="47.5" x2="213.6" y2="47.5" stroke="#1a1a1a" stroke-width="0.8"/>
<text x="209.2" y="49.8" font-size="6.5" text-anchor="end">0.3</text>
<line x1="211.4" y1="39.3" x2="213.6" y2="39.3" stroke="#1a1a1a" stroke-width="0.8"/>
<text x="209.2" y="41.6" font-size="6.5" text-anchor="end">0.4</text>
<line x1="211.4" y1="31.1" x2="213.6" y2="31.1" stroke="#1a1a1a" stroke-width="0.8"/>
<text x="209.2" y="33.4" font-size="6.5" text-anchor="end">0.5</text>
<text x="211" y="116.02" font-size="6.5" text-anchor="end">30</text>
<text x="211" y="121.98" font-size="6.5" text-anchor="end">20</text>
<text x="211" y="127.94" font-size="6.5" text-anchor="end">10</text>
<text x="211" y="133.9" font-size="6.5" text-anchor="end">0</text>
<text x="211" y="139.86" font-size="6.5" text-anchor="end">−10</text>
<text x="211" y="145.82" font-size="6.5" text-anchor="end">−20</text>
<text x="211" y="151.78" font-size="6.5" text-anchor="end">−30</text>
<line x1="213" y1="150.4" x2="213" y2="152" stroke="#1a1a1a" stroke-width="0.8"/>
<text x="213" y="157.3" font-size="4.6" text-anchor="middle">0</text>
<line x1="226.2" y1="150.4" x2="226.2" y2="152" stroke="#1a1a1a" stroke-width="0.8"/>
<text x="226.2" y="157.3" font-size="4.6" text-anchor="middle">1,000</text>
<line x1="239.4" y1="150.4" x2="239.4" y2="152" stroke="#1a1a1a" stroke-width="0.8"/>
<text x="239.4" y="157.3" font-size="4.6" text-anchor="middle">2,000</text>
<line x1="252.6" y1="150.4" x2="252.6" y2="152" stroke="#1a1a1a" stroke-width="0.8"/>
<text x="252.6" y="157.3" font-size="4.6" text-anchor="middle">3,000</text>
<line x1="265.8" y1="150.4" x2="265.8" y2="152" stroke="#1a1a1a" stroke-width="0.8"/>
<text x="265.8" y="157.3" font-size="4.6" text-anchor="middle">4,000</text>
<line x1="279" y1="150.4" x2="279" y2="152" stroke="#1a1a1a" stroke-width="0.8"/>
<text x="279" y="157.3" font-size="4.6" text-anchor="middle">5,000</text>
<line x1="292.2" y1="150.4" x2="292.2" y2="152" stroke="#1a1a1a" stroke-width="0.8"/>
<text x="292.2" y="157.3" font-size="4.6" text-anchor="middle">6,000</text>
<line x1="305.4" y1="150.4" x2="305.4" y2="152" stroke="#1a1a1a" stroke-width="0.8"/>
<text x="305.4" y="157.3" font-size="4.6" text-anchor="middle">7,000</text>
<line x1="318.6" y1="150.4" x2="318.6" y2="152" stroke="#1a1a1a" stroke-width="0.8"/>
<text x="318.6" y="157.3" font-size="4.6" text-anchor="middle">8,000</text>
<line x1="331.8" y1="150.4" x2="331.8" y2="152" stroke="#1a1a1a" stroke-width="0.8"/>
<text x="331.8" y="157.3" font-size="4.6" text-anchor="middle">9,000</text>
<text x="273.25" y="23.6" font-size="6.4" text-anchor="middle" textLength="120.9" lengthAdjust="spacingAndGlyphs">JAATINEN_HEMATOPOI ETIC_STEM_CELL_UP</text>
<text x="314.35" y="38.75" font-size="6.3" text-anchor="middle" textLength="28.7" lengthAdjust="spacingAndGlyphs">NES = 2.09</text>
<text x="313.65" y="46" font-size="6.3" text-anchor="middle" textLength="31.3" lengthAdjust="spacingAndGlyphs">FDR = 0.006</text>
<text x="194.52" y="52.9" font-size="7.1" text-anchor="middle" textLength="63.6" lengthAdjust="spacingAndGlyphs" transform="rotate(-90 194.52 52.9)">Enrichment score (ES)</text>
<text x="187.06" y="131.8" font-size="7.1" text-anchor="middle" textLength="44.9" lengthAdjust="spacingAndGlyphs" transform="rotate(-90 187.06 131.8)">Rank list metric</text>
<text x="195.22" y="132.2" font-size="7.1" text-anchor="middle" textLength="37.2" lengthAdjust="spacingAndGlyphs" transform="rotate(-90 195.22 132.2)">(PreRanked)</text>
<line x1="398.48" y1="29.4" x2="398.48" y2="86" stroke="#f1f1f1" stroke-width="0.5"/>
<line x1="398.48" y1="111.8" x2="398.48" y2="149.6" stroke="#f1f1f1" stroke-width="0.5"/>
<line x1="412.06" y1="29.4" x2="412.06" y2="86" stroke="#f1f1f1" stroke-width="0.5"/>
<line x1="412.06" y1="111.8" x2="412.06" y2="149.6" stroke="#f1f1f1" stroke-width="0.5"/>
<line x1="425.63" y1="29.4" x2="425.63" y2="86" stroke="#f1f1f1" stroke-width="0.5"/>
<line x1="425.63" y1="111.8" x2="425.63" y2="149.6" stroke="#f1f1f1" stroke-width="0.5"/>
<line x1="439.21" y1="29.4" x2="439.21" y2="86" stroke="#f1f1f1" stroke-width="0.5"/>
<line x1="439.21" y1="111.8" x2="439.21" y2="149.6" stroke="#f1f1f1" stroke-width="0.5"/>
<line x1="452.79" y1="29.4" x2="452.79" y2="86" stroke="#f1f1f1" stroke-width="0.5"/>
<line x1="452.79" y1="111.8" x2="452.79" y2="149.6" stroke="#f1f1f1" stroke-width="0.5"/>
<line x1="466.37" y1="29.4" x2="466.37" y2="86" stroke="#f1f1f1" stroke-width="0.5"/>
<line x1="466.37" y1="111.8" x2="466.37" y2="149.6" stroke="#f1f1f1" stroke-width="0.5"/>
<line x1="479.94" y1="29.4" x2="479.94" y2="86" stroke="#f1f1f1" stroke-width="0.5"/>
<line x1="479.94" y1="111.8" x2="479.94" y2="149.6" stroke="#f1f1f1" stroke-width="0.5"/>
<line x1="493.52" y1="29.4" x2="493.52" y2="86" stroke="#f1f1f1" stroke-width="0.5"/>
<line x1="493.52" y1="111.8" x2="493.52" y2="149.6" stroke="#f1f1f1" stroke-width="0.5"/>
<line x1="384.9" y1="78.6" x2="507.4" y2="78.6" stroke="#f1f1f1" stroke-width="0.5"/>
<line x1="384.9" y1="70.4" x2="507.4" y2="70.4" stroke="#f1f1f1" stroke-width="0.5"/>
<line x1="384.9" y1="62.2" x2="507.4" y2="62.2" stroke="#f1f1f1" stroke-width="0.5"/>
<line x1="384.9" y1="54" x2="507.4" y2="54" stroke="#f1f1f1" stroke-width="0.5"/>
<line x1="384.9" y1="45.8" x2="507.4" y2="45.8" stroke="#f1f1f1" stroke-width="0.5"/>
<line x1="384.9" y1="37.6" x2="507.4" y2="37.6" stroke="#f1f1f1" stroke-width="0.5"/>
<line x1="384.9" y1="29.4" x2="507.4" y2="29.4" stroke="#f1f1f1" stroke-width="0.5"/>
<line x1="384.9" y1="78.6" x2="507.4" y2="78.6" stroke="#c8c8c8" stroke-width="0.6"/>
<line x1="384.9" y1="119.3" x2="507.4" y2="119.3" stroke="#f3eeee" stroke-width="0.5"/>
<line x1="384.9" y1="125.25" x2="507.4" y2="125.25" stroke="#f3eeee" stroke-width="0.5"/>
<line x1="384.9" y1="137.15" x2="507.4" y2="137.15" stroke="#f3eeee" stroke-width="0.5"/>
<line x1="384.9" y1="143.1" x2="507.4" y2="143.1" stroke="#f3eeee" stroke-width="0.5"/>
<line x1="384.9" y1="86.8" x2="507.4" y2="86.8" stroke="#e4e4e4" stroke-width="0.5"/>
<rect x="384.9" y="87.5" width="1.4" height="18.6" fill="#000" fill-opacity="0.88"/>
<rect x="386.3" y="87.5" width="1.5" height="18.6" fill="#000" fill-opacity="0.72"/>
<rect x="387.8" y="87.5" width="4.7" height="18.6" fill="#000" fill-opacity="0.6"/>
<rect x="392.5" y="87.5" width="1.8" height="18.6" fill="#000" fill-opacity="0.14"/>
<rect x="394.3" y="87.5" width="1.8" height="18.6" fill="#000" fill-opacity="0.45"/>
<rect x="396.1" y="87.5" width="0.6" height="18.6" fill="#000" fill-opacity="0.14"/>
<rect x="396.7" y="87.5" width="2.4" height="18.6" fill="#000" fill-opacity="0.45"/>
<rect x="399.1" y="87.5" width="1.8" height="18.6" fill="#000" fill-opacity="0.25"/>
<rect x="405.6" y="87.5" width="3" height="18.6" fill="#000" fill-opacity="0.45"/>
<rect x="408.6" y="87.5" width="1.8" height="18.6" fill="#000" fill-opacity="0.14"/>
<rect x="410.4" y="87.5" width="3" height="18.6" fill="#000" fill-opacity="0.45"/>
<rect x="413.4" y="87.5" width="1.2" height="18.6" fill="#000" fill-opacity="0.14"/>
<rect x="414.6" y="87.5" width="4.2" height="18.6" fill="#000" fill-opacity="0.6"/>
<rect x="418.8" y="87.5" width="2.9" height="18.6" fill="#000" fill-opacity="0.25"/>
<rect x="426.5" y="87.5" width="1.2" height="18.6" fill="#000" fill-opacity="0.45"/>
<rect x="427.7" y="87.5" width="5.4" height="18.6" fill="#000" fill-opacity="0.25"/>
<rect x="433.1" y="87.5" width="1.2" height="18.6" fill="#000" fill-opacity="0.45"/>
<rect x="434.3" y="87.5" width="1.1" height="18.6" fill="#000" fill-opacity="0.14"/>
<rect x="435.4" y="87.5" width="1.2" height="18.6" fill="#000" fill-opacity="0.45"/>
<rect x="437.2" y="87.5" width="2.4" height="18.6" fill="#000" fill-opacity="0.72"/>
<rect x="439.6" y="87.5" width="1.2" height="18.6" fill="#000" fill-opacity="0.14"/>
<rect x="440.8" y="87.5" width="4" height="18.6" fill="#000" fill-opacity="0.45"/>
<rect x="446.7" y="87.5" width="1.8" height="18.6" fill="#000" fill-opacity="0.45"/>
<rect x="448.5" y="87.5" width="1.3" height="18.6" fill="#000" fill-opacity="0.14"/>
<rect x="449.8" y="87.5" width="1.6" height="18.6" fill="#000" fill-opacity="0.6"/>
<rect x="451.4" y="87.5" width="1.2" height="18.6" fill="#000" fill-opacity="0.14"/>
<rect x="452.6" y="87.5" width="2.1" height="18.6" fill="#000" fill-opacity="0.6"/>
<rect x="455.9" y="87.5" width="1.3" height="18.6" fill="#000" fill-opacity="0.45"/>
<rect x="457.2" y="87.5" width="1.2" height="18.6" fill="#000" fill-opacity="0.14"/>
<rect x="458.4" y="87.5" width="1.8" height="18.6" fill="#000" fill-opacity="0.72"/>
<rect x="463.9" y="87.5" width="1.3" height="18.6" fill="#000" fill-opacity="0.45"/>
<rect x="465.2" y="87.5" width="1.8" height="18.6" fill="#000" fill-opacity="0.14"/>
<rect x="467" y="87.5" width="1.8" height="18.6" fill="#000" fill-opacity="0.45"/>
<rect x="470.7" y="87.5" width="1.2" height="18.6" fill="#000" fill-opacity="0.45"/>
<rect x="473.8" y="87.5" width="2.4" height="18.6" fill="#000" fill-opacity="0.6"/>
<rect x="476.2" y="87.5" width="1.9" height="18.6" fill="#000" fill-opacity="0.25"/>
<rect x="478.1" y="87.5" width="1.2" height="18.6" fill="#000" fill-opacity="0.45"/>
<rect x="480.5" y="87.5" width="2.5" height="18.6" fill="#000" fill-opacity="0.6"/>
<rect x="484.2" y="87.5" width="1.9" height="18.6" fill="#000" fill-opacity="0.6"/>
<rect x="486.1" y="87.5" width="1.2" height="18.6" fill="#000" fill-opacity="0.14"/>
<rect x="487.3" y="87.5" width="3.7" height="18.6" fill="#000" fill-opacity="0.38"/>
<rect x="491" y="87.5" width="2.5" height="18.6" fill="#000" fill-opacity="0.72"/>
<rect x="493.5" y="87.5" width="1.2" height="18.6" fill="#000" fill-opacity="0.14"/>
<rect x="494.7" y="87.5" width="1.8" height="18.6" fill="#000" fill-opacity="0.45"/>
<rect x="496.5" y="87.5" width="1.3" height="18.6" fill="#000" fill-opacity="0.14"/>
<rect x="497.8" y="87.5" width="1.8" height="18.6" fill="#000" fill-opacity="0.6"/>
<rect x="499.6" y="87.5" width="1.9" height="18.6" fill="#000" fill-opacity="0.14"/>
<rect x="501.5" y="87.5" width="1.2" height="18.6" fill="#000" fill-opacity="0.45"/>
<rect x="385.1" y="106.25" width="11.98" height="5.05" fill="#e8323e"/>
<rect x="396.78" y="106.25" width="22.49" height="5.05" fill="#eb4654"/>
<rect x="418.97" y="106.25" width="16.65" height="5.05" fill="#f2aac8"/>
<rect x="435.32" y="106.25" width="3.8" height="5.05" fill="#e8cce8"/>
<rect x="438.83" y="106.25" width="14.32" height="5.05" fill="#d2d2f1"/>
<rect x="452.84" y="106.25" width="13.15" height="5.05" fill="#c2c2eb"/>
<rect x="465.69" y="106.25" width="11.98" height="5.05" fill="#5e5ec4"/>
<rect x="477.37" y="106.25" width="20.16" height="5.05" fill="#4444b2"/>
<rect x="497.23" y="106.25" width="4.97" height="5.05" fill="#2a2a9e"/>
<polygon points="385.1,131.2 385.1,124.95 385.63,125.39 386.16,125.79 386.69,126.15 387.22,126.47 387.75,126.77 388.29,127.04 388.82,127.29 389.35,127.51 389.88,127.72 390.41,127.91 390.94,128.08 391.47,128.24 392,128.39 392.53,128.52 393.06,128.65 393.59,128.76 394.13,128.87 394.66,128.97 395.19,129.06 395.72,129.15 396.25,129.23 396.78,129.3 397.31,129.38 397.84,129.44 398.37,129.51 398.9,129.57 399.43,129.62 399.97,129.68 400.5,129.73 401.03,129.78 401.56,129.82 402.09,129.87 402.62,129.91 403.15,129.95 403.68,129.99 404.21,130.03 404.74,130.06 405.27,130.1 405.81,130.13 406.34,130.16 406.87,130.2 407.4,130.23 407.93,130.26 408.46,130.28 408.99,130.31 409.52,130.34 410.05,130.37 410.58,130.39 411.11,130.42 411.65,130.44 412.18,130.47 412.71,130.49 413.24,130.51 413.77,130.54 414.3,130.56 414.83,130.58 415.36,130.6 415.89,130.62 416.42,130.64 416.95,130.66 417.49,130.68 418.02,130.7 418.55,130.72 419.08,130.73 419.61,130.75 420.14,130.77 420.67,130.79 421.2,130.8 421.73,130.82 422.26,130.84 422.79,130.85 423.33,130.87 423.86,130.88 424.39,130.9 424.92,130.91 425.45,130.93 425.98,130.94 426.51,130.96 427.04,130.97 427.57,130.98 428.1,131 428.63,131.01 429.17,131.02 429.7,131.04 430.23,131.05 430.76,131.06 431.29,131.07 431.82,131.09 432.35,131.1 432.88,131.11 433.41,131.12 433.94,131.13 434.47,131.14 435.01,131.15 435.54,131.16 436.07,131.17 436.6,131.18 437.13,131.19 437.66,131.21 438.19,131.24 438.72,131.26 439.25,131.29 439.78,131.32 440.31,131.34 440.85,131.37 441.38,131.4 441.91,131.42 442.44,131.45 442.97,131.48 443.5,131.51 444.03,131.53 444.56,131.56 445.09,131.59 445.62,131.61 446.15,131.64 446.69,131.67 447.22,131.7 447.75,131.72 448.28,131.75 448.81,131.78 449.34,131.81 449.87,131.83 450.4,131.86 450.93,131.89 451.46,131.92 451.99,131.94 452.53,131.97 453.06,132 453.59,132.03 454.12,132.06 454.65,132.08 455.18,132.11 455.71,132.14 456.24,132.17 456.77,132.2 457.3,132.23 457.83,132.26 458.37,132.29 458.9,132.32 459.43,132.35 459.96,132.38 460.49,132.41 461.02,132.44 461.55,132.47 462.08,132.5 462.61,132.54 463.14,132.57 463.67,132.6 464.21,132.63 464.74,132.67 465.27,132.7 465.8,132.73 466.33,132.77 466.86,132.8 467.39,132.84 467.92,132.87 468.45,132.91 468.98,132.95 469.51,132.98 470.05,133.02 470.58,133.06 471.11,133.1 471.64,133.14 472.17,133.18 472.7,133.22 473.23,133.26 473.76,133.3 474.29,133.34 474.82,133.39 475.35,133.43 475.89,133.47 476.42,133.52 476.95,133.57 477.48,133.61 478.01,133.66 478.54,133.71 479.07,133.76 479.6,133.81 480.13,133.86 480.66,133.91 481.19,133.96 481.73,134.02 482.26,134.07 482.79,134.13 483.32,134.18 483.85,134.24 484.38,134.3 484.91,134.36 485.44,134.42 485.97,134.48 486.5,134.55 487.03,134.61 487.57,134.68 488.1,134.75 488.63,134.82 489.16,134.89 489.69,134.96 490.22,135.03 490.75,135.11 491.28,135.18 491.81,135.26 492.34,135.34 492.87,135.43 493.41,135.52 493.94,135.61 494.47,135.71 495,135.82 495.53,135.94 496.06,136.08 496.59,136.24 497.12,136.44 497.65,136.7 498.18,137.03 498.71,137.47 499.25,138.07 499.78,138.92 500.31,140.12 500.84,141.83 501.37,144.31 501.9,147.92 501.9,131.2" fill="#cbcbcb" stroke="#b0b0b0" stroke-width="0.3"/>
<line x1="385.1" y1="131.2" x2="501.9" y2="131.2" stroke="#9a9a9a" stroke-width="0.4"/>
<text x="385.4" y="114.3" font-size="2.9" fill="#e0303c" textLength="42.05" lengthAdjust="spacingAndGlyphs">'na_pos' (positively correlated)</text>
<text x="425.48" y="130.9" font-size="2.7" fill="#333" textLength="22.78" lengthAdjust="spacingAndGlyphs">Zero cross at 3857</text>
<text x="467.44" y="147.2" font-size="2.9" text-anchor="middle" fill="#3030c0" textLength="43.22" lengthAdjust="spacingAndGlyphs">'na_neg' (negatively correlated)</text>
<polyline points="384.9,63 385.8,53 387.5,47.5 389.5,42.8 390.8,39 391.6,33 392.2,31.3 393.6,31.17 395,31.4 396.5,31.63 398,31.71 399.5,32 401.17,33.14 402.83,34.22 404.5,35.2 405.93,35.51 407.36,36.09 408.79,37.28 410.21,37.49 411.64,38.09 413.07,39.23 414.5,39.5 415.88,40.23 417.25,41.24 418.62,41.73 420,42.5 421.33,43.46 422.67,43.99 424,45.19 425.33,46.22 426.67,46.85 428,47.87 429.33,48.69 430.67,49.13 432,50.3 433.39,51.45 434.78,52.3 436.17,53.06 437.56,53.84 438.94,55.39 440.33,56.08 441.72,57.22 443.11,58.3 444.5,59 445.89,59.98 447.28,60.96 448.67,61.43 450.06,62.54 451.44,63.13 452.83,64.3 454.22,65.1 455.61,65.38 457,66.5 458.39,66.95 459.78,67.7 461.17,68.93 462.56,69.26 463.94,70.09 465.33,70.56 466.72,71.41 468.11,72.02 469.5,72.8 471,73.94 472.5,75.34 474,76.58 475.5,78.04 477,79 478.67,79.79 480.33,80.63 482,81 483.67,81.85 485.33,82.54 487,82.8 488.67,82.65 490.33,82.03 492,82 493.67,82.35 495.33,82.53 497,82.3 499.5,81.5 501.5,77.8" fill="none" stroke="#5fb84c" stroke-width="1.2" stroke-linejoin="round"/>
<rect x="384.9" y="28.4" width="122.5" height="121.2" fill="none" stroke="#1a1a1a" stroke-width="1.3"/>
<line x1="382.7" y1="78.6" x2="384.9" y2="78.6" stroke="#1a1a1a" stroke-width="0.8"/>
<text x="380.5" y="80.9" font-size="6.5" text-anchor="end">0.0</text>
<line x1="382.7" y1="70.4" x2="384.9" y2="70.4" stroke="#1a1a1a" stroke-width="0.8"/>
<text x="380.5" y="72.7" font-size="6.5" text-anchor="end">0.1</text>
<line x1="382.7" y1="62.2" x2="384.9" y2="62.2" stroke="#1a1a1a" stroke-width="0.8"/>
<text x="380.5" y="64.5" font-size="6.5" text-anchor="end">0.2</text>
<line x1="382.7" y1="54" x2="384.9" y2="54" stroke="#1a1a1a" stroke-width="0.8"/>
<text x="380.5" y="56.3" font-size="6.5" text-anchor="end">0.3</text>
<line x1="382.7" y1="45.8" x2="384.9" y2="45.8" stroke="#1a1a1a" stroke-width="0.8"/>
<text x="380.5" y="48.1" font-size="6.5" text-anchor="end">0.4</text>
<line x1="382.7" y1="37.6" x2="384.9" y2="37.6" stroke="#1a1a1a" stroke-width="0.8"/>
<text x="380.5" y="39.9" font-size="6.5" text-anchor="end">0.5</text>
<line x1="382.7" y1="29.4" x2="384.9" y2="29.4" stroke="#1a1a1a" stroke-width="0.8"/>
<text x="380.5" y="31.7" font-size="6.5" text-anchor="end">0.6</text>
<text x="382.3" y="115.65" font-size="6.5" text-anchor="end">30</text>
<text x="382.3" y="121.6" font-size="6.5" text-anchor="end">20</text>
<text x="382.3" y="127.55" font-size="6.5" text-anchor="end">10</text>
<text x="382.3" y="133.5" font-size="6.5" text-anchor="end">0</text>
<text x="382.3" y="139.45" font-size="6.5" text-anchor="end">−10</text>
<text x="382.3" y="145.4" font-size="6.5" text-anchor="end">−20</text>
<text x="382.3" y="151.35" font-size="6.5" text-anchor="end">−30</text>
<line x1="384.9" y1="149.6" x2="384.9" y2="151.2" stroke="#1a1a1a" stroke-width="0.8"/>
<text x="384.9" y="156.5" font-size="4.6" text-anchor="middle">0</text>
<line x1="398.48" y1="149.6" x2="398.48" y2="151.2" stroke="#1a1a1a" stroke-width="0.8"/>
<text x="398.48" y="156.5" font-size="4.6" text-anchor="middle">1,000</text>
<line x1="412.06" y1="149.6" x2="412.06" y2="151.2" stroke="#1a1a1a" stroke-width="0.8"/>
<text x="412.06" y="156.5" font-size="4.6" text-anchor="middle">2,000</text>
<line x1="425.63" y1="149.6" x2="425.63" y2="151.2" stroke="#1a1a1a" stroke-width="0.8"/>
<text x="425.63" y="156.5" font-size="4.6" text-anchor="middle">3,000</text>
<line x1="439.21" y1="149.6" x2="439.21" y2="151.2" stroke="#1a1a1a" stroke-width="0.8"/>
<text x="439.21" y="156.5" font-size="4.6" text-anchor="middle">4,000</text>
<line x1="452.79" y1="149.6" x2="452.79" y2="151.2" stroke="#1a1a1a" stroke-width="0.8"/>
<text x="452.79" y="156.5" font-size="4.6" text-anchor="middle">5,000</text>
<line x1="466.37" y1="149.6" x2="466.37" y2="151.2" stroke="#1a1a1a" stroke-width="0.8"/>
<text x="466.37" y="156.5" font-size="4.6" text-anchor="middle">6,000</text>
<line x1="479.94" y1="149.6" x2="479.94" y2="151.2" stroke="#1a1a1a" stroke-width="0.8"/>
<text x="479.94" y="156.5" font-size="4.6" text-anchor="middle">7,000</text>
<line x1="493.52" y1="149.6" x2="493.52" y2="151.2" stroke="#1a1a1a" stroke-width="0.8"/>
<text x="493.52" y="156.5" font-size="4.6" text-anchor="middle">8,000</text>
<line x1="507.1" y1="149.6" x2="507.1" y2="151.2" stroke="#1a1a1a" stroke-width="0.8"/>
<text x="507.1" y="156.5" font-size="4.6" text-anchor="middle">9,000</text>
<text x="445.2" y="23.4" font-size="6.4" text-anchor="middle" textLength="109.2" lengthAdjust="spacingAndGlyphs">MANNO_MIDBRAIN_NEUROTYPES_HDA2</text>
<text x="486.3" y="38.6" font-size="6.3" text-anchor="middle" textLength="28.8" lengthAdjust="spacingAndGlyphs">NES = 2.22</text>
<text x="486.75" y="45.7" font-size="6.3" text-anchor="middle" textLength="30.9" lengthAdjust="spacingAndGlyphs">FDR &lt; 0.001</text>
<text x="367.72" y="52.6" font-size="7.1" text-anchor="middle" textLength="63.1" lengthAdjust="spacingAndGlyphs" transform="rotate(-90 367.72 52.6)">Enrichment score (ES)</text>
<text x="359.56" y="131.8" font-size="7.1" text-anchor="middle" textLength="44.9" lengthAdjust="spacingAndGlyphs" transform="rotate(-90 359.56 131.8)">Rank list metric</text>
<text x="367.62" y="132.2" font-size="7.1" text-anchor="middle" textLength="37.2" lengthAdjust="spacingAndGlyphs" transform="rotate(-90 367.62 132.2)">(PreRanked)</text>
<line x1="52.94" y1="171.1" x2="52.94" y2="228" stroke="#f1f1f1" stroke-width="0.5"/>
<line x1="52.94" y1="252.8" x2="52.94" y2="291" stroke="#f1f1f1" stroke-width="0.5"/>
<line x1="66.49" y1="171.1" x2="66.49" y2="228" stroke="#f1f1f1" stroke-width="0.5"/>
<line x1="66.49" y1="252.8" x2="66.49" y2="291" stroke="#f1f1f1" stroke-width="0.5"/>
<line x1="80.03" y1="171.1" x2="80.03" y2="228" stroke="#f1f1f1" stroke-width="0.5"/>
<line x1="80.03" y1="252.8" x2="80.03" y2="291" stroke="#f1f1f1" stroke-width="0.5"/>
<line x1="93.58" y1="171.1" x2="93.58" y2="228" stroke="#f1f1f1" stroke-width="0.5"/>
<line x1="93.58" y1="252.8" x2="93.58" y2="291" stroke="#f1f1f1" stroke-width="0.5"/>
<line x1="107.12" y1="171.1" x2="107.12" y2="228" stroke="#f1f1f1" stroke-width="0.5"/>
<line x1="107.12" y1="252.8" x2="107.12" y2="291" stroke="#f1f1f1" stroke-width="0.5"/>
<line x1="120.67" y1="171.1" x2="120.67" y2="228" stroke="#f1f1f1" stroke-width="0.5"/>
<line x1="120.67" y1="252.8" x2="120.67" y2="291" stroke="#f1f1f1" stroke-width="0.5"/>
<line x1="134.21" y1="171.1" x2="134.21" y2="228" stroke="#f1f1f1" stroke-width="0.5"/>
<line x1="134.21" y1="252.8" x2="134.21" y2="291" stroke="#f1f1f1" stroke-width="0.5"/>
<line x1="147.76" y1="171.1" x2="147.76" y2="228" stroke="#f1f1f1" stroke-width="0.5"/>
<line x1="147.76" y1="252.8" x2="147.76" y2="291" stroke="#f1f1f1" stroke-width="0.5"/>
<line x1="39.4" y1="227.27" x2="161.3" y2="227.27" stroke="#f1f1f1" stroke-width="0.5"/>
<line x1="39.4" y1="220.2" x2="161.3" y2="220.2" stroke="#f1f1f1" stroke-width="0.5"/>
<line x1="39.4" y1="213.13" x2="161.3" y2="213.13" stroke="#f1f1f1" stroke-width="0.5"/>
<line x1="39.4" y1="206.06" x2="161.3" y2="206.06" stroke="#f1f1f1" stroke-width="0.5"/>
<line x1="39.4" y1="198.99" x2="161.3" y2="198.99" stroke="#f1f1f1" stroke-width="0.5"/>
<line x1="39.4" y1="191.92" x2="161.3" y2="191.92" stroke="#f1f1f1" stroke-width="0.5"/>
<line x1="39.4" y1="184.85" x2="161.3" y2="184.85" stroke="#f1f1f1" stroke-width="0.5"/>
<line x1="39.4" y1="177.78" x2="161.3" y2="177.78" stroke="#f1f1f1" stroke-width="0.5"/>
<line x1="39.4" y1="170.71" x2="161.3" y2="170.71" stroke="#f1f1f1" stroke-width="0.5"/>
<line x1="39.4" y1="220.2" x2="161.3" y2="220.2" stroke="#c8c8c8" stroke-width="0.6"/>
<line x1="39.4" y1="261.38" x2="161.3" y2="261.38" stroke="#f3eeee" stroke-width="0.5"/>
<line x1="39.4" y1="267.34" x2="161.3" y2="267.34" stroke="#f3eeee" stroke-width="0.5"/>
<line x1="39.4" y1="279.26" x2="161.3" y2="279.26" stroke="#f3eeee" stroke-width="0.5"/>
<line x1="39.4" y1="285.22" x2="161.3" y2="285.22" stroke="#f3eeee" stroke-width="0.5"/>
<line x1="39.4" y1="227.9" x2="161.3" y2="227.9" stroke="#e4e4e4" stroke-width="0.5"/>
<rect x="39.4" y="228.6" width="1" height="18.9" fill="#000" fill-opacity="0.88"/>
<rect x="41.6" y="228.6" width="1.2" height="18.9" fill="#000" fill-opacity="0.45"/>
<rect x="42.8" y="228.6" width="1.8" height="18.9" fill="#000" fill-opacity="0.6"/>
<rect x="44.6" y="228.6" width="1.1" height="18.9" fill="#000" fill-opacity="0.14"/>
<rect x="51.7" y="228.6" width="1.2" height="18.9" fill="#000" fill-opacity="0.88"/>
<rect x="55.9" y="228.6" width="2.4" height="18.9" fill="#000" fill-opacity="0.45"/>
<rect x="58.3" y="228.6" width="1.2" height="18.9" fill="#000" fill-opacity="0.14"/>
<rect x="63.6" y="228.6" width="1.2" height="18.9" fill="#000" fill-opacity="0.45"/>
<rect x="67.8" y="228.6" width="1.8" height="18.9" fill="#000" fill-opacity="0.6"/>
<rect x="79.1" y="228.6" width="0.9" height="18.9" fill="#000" fill-opacity="0.45"/>
<rect x="80" y="228.6" width="2.1" height="18.9" fill="#000" fill-opacity="0.25"/>
<rect x="92.2" y="228.6" width="1.2" height="18.9" fill="#000" fill-opacity="0.45"/>
<rect x="99.8" y="228.6" width="0.8" height="18.9" fill="#000" fill-opacity="0.45"/>
<rect x="123" y="228.6" width="1" height="18.9" fill="#000" fill-opacity="0.45"/>
<rect x="124.8" y="228.6" width="0.9" height="18.9" fill="#000" fill-opacity="0.45"/>
<rect x="139.1" y="228.6" width="0.9" height="18.9" fill="#000" fill-opacity="0.45"/>
<rect x="142.1" y="228.6" width="0.9" height="18.9" fill="#000" fill-opacity="0.45"/>
<rect x="143.9" y="228.6" width="0.8" height="18.9" fill="#000" fill-opacity="0.45"/>
<rect x="155.2" y="228.6" width="1" height="18.9" fill="#000" fill-opacity="0.45"/>
<rect x="39.6" y="247.6" width="11.94" height="4.7" fill="#e8323e"/>
<rect x="51.24" y="247.6" width="22.42" height="4.7" fill="#eb4654"/>
<rect x="73.36" y="247.6" width="16.6" height="4.7" fill="#f2aac8"/>
<rect x="89.65" y="247.6" width="3.79" height="4.7" fill="#e8cce8"/>
<rect x="93.14" y="247.6" width="14.27" height="4.7" fill="#d2d2f1"/>
<rect x="107.11" y="247.6" width="13.1" height="4.7" fill="#c2c2eb"/>
<rect x="119.92" y="247.6" width="11.94" height="4.7" fill="#5e5ec4"/>
<rect x="131.56" y="247.6" width="20.09" height="4.7" fill="#4444b2"/>
<rect x="151.34" y="247.6" width="4.96" height="4.7" fill="#2a2a9e"/>
<polygon points="39.6,273.3 39.6,267.04 40.13,267.48 40.66,267.88 41.19,268.24 41.72,268.57 42.25,268.86 42.77,269.14 43.3,269.38 43.83,269.61 44.36,269.81 44.89,270 45.42,270.18 45.95,270.34 46.48,270.48 47.01,270.62 47.54,270.74 48.07,270.86 48.59,270.96 49.12,271.06 49.65,271.16 50.18,271.24 50.71,271.32 51.24,271.4 51.77,271.47 52.3,271.54 52.83,271.6 53.36,271.66 53.89,271.72 54.41,271.77 54.94,271.82 55.47,271.87 56,271.92 56.53,271.96 57.06,272.01 57.59,272.05 58.12,272.09 58.65,272.12 59.18,272.16 59.71,272.2 60.23,272.23 60.76,272.26 61.29,272.29 61.82,272.32 62.35,272.35 62.88,272.38 63.41,272.41 63.94,272.44 64.47,272.47 65,272.49 65.53,272.52 66.05,272.54 66.58,272.57 67.11,272.59 67.64,272.61 68.17,272.63 68.7,272.66 69.23,272.68 69.76,272.7 70.29,272.72 70.82,272.74 71.35,272.76 71.87,272.78 72.4,272.8 72.93,272.82 73.46,272.83 73.99,272.85 74.52,272.87 75.05,272.89 75.58,272.9 76.11,272.92 76.64,272.94 77.17,272.95 77.69,272.97 78.22,272.98 78.75,273 79.28,273.01 79.81,273.03 80.34,273.04 80.87,273.06 81.4,273.07 81.93,273.08 82.46,273.1 82.99,273.11 83.51,273.12 84.04,273.14 84.57,273.15 85.1,273.16 85.63,273.17 86.16,273.18 86.69,273.2 87.22,273.21 87.75,273.22 88.28,273.23 88.81,273.24 89.33,273.25 89.86,273.26 90.39,273.27 90.92,273.28 91.45,273.29 91.98,273.31 92.51,273.34 93.04,273.36 93.57,273.39 94.1,273.42 94.63,273.44 95.15,273.47 95.68,273.5 96.21,273.53 96.74,273.55 97.27,273.58 97.8,273.61 98.33,273.63 98.86,273.66 99.39,273.69 99.92,273.71 100.45,273.74 100.97,273.77 101.5,273.8 102.03,273.82 102.56,273.85 103.09,273.88 103.62,273.91 104.15,273.93 104.68,273.96 105.21,273.99 105.74,274.02 106.27,274.05 106.79,274.07 107.32,274.1 107.85,274.13 108.38,274.16 108.91,274.19 109.44,274.22 109.97,274.24 110.5,274.27 111.03,274.3 111.56,274.33 112.09,274.36 112.61,274.39 113.14,274.42 113.67,274.45 114.2,274.48 114.73,274.51 115.26,274.54 115.79,274.57 116.32,274.61 116.85,274.64 117.38,274.67 117.91,274.7 118.43,274.74 118.96,274.77 119.49,274.8 120.02,274.84 120.55,274.87 121.08,274.91 121.61,274.94 122.14,274.98 122.67,275.01 123.2,275.05 123.73,275.09 124.25,275.12 124.78,275.16 125.31,275.2 125.84,275.24 126.37,275.28 126.9,275.32 127.43,275.36 127.96,275.4 128.49,275.45 129.02,275.49 129.55,275.53 130.07,275.58 130.6,275.62 131.13,275.67 131.66,275.72 132.19,275.76 132.72,275.81 133.25,275.86 133.78,275.91 134.31,275.96 134.84,276.01 135.37,276.07 135.89,276.12 136.42,276.18 136.95,276.23 137.48,276.29 138.01,276.35 138.54,276.41 139.07,276.47 139.6,276.53 140.13,276.59 140.66,276.65 141.19,276.72 141.71,276.79 142.24,276.85 142.77,276.92 143.3,276.99 143.83,277.06 144.36,277.14 144.89,277.21 145.42,277.29 145.95,277.37 146.48,277.45 147.01,277.54 147.53,277.62 148.06,277.72 148.59,277.82 149.12,277.93 149.65,278.05 150.18,278.19 150.71,278.35 151.24,278.55 151.77,278.81 152.3,279.14 152.83,279.58 153.35,280.18 153.88,281.03 154.41,282.23 154.94,283.95 155.47,286.44 156,290.05 156,273.3" fill="#cbcbcb" stroke="#b0b0b0" stroke-width="0.3"/>
<line x1="39.6" y1="273.3" x2="156" y2="273.3" stroke="#9a9a9a" stroke-width="0.4"/>
<text x="39.9" y="255.3" font-size="2.9" fill="#e0303c" textLength="41.9" lengthAdjust="spacingAndGlyphs">'na_pos' (positively correlated)</text>
<text x="79.8" y="273" font-size="2.7" fill="#333" textLength="22.7" lengthAdjust="spacingAndGlyphs">Zero cross at 3857</text>
<text x="121.66" y="288.6" font-size="2.9" text-anchor="middle" fill="#3030c0" textLength="43.07" lengthAdjust="spacingAndGlyphs">'na_neg' (negatively correlated)</text>
<polyline points="39.5,219.5 39.8,198.5 40.5,189.75 41.5,184.75 42.25,179.75 43.5,175.5 45.5,173 47,173.69 48.5,174.75 51,176.5 53,173.5 54.5,173.85 56,174.75 57.88,174.68 59.75,174.75 61.21,175.13 62.67,175.7 64.12,176.56 65.58,177.54 67.04,178.09 68.5,178.5 69.85,179.45 71.19,179.84 72.54,180.83 73.88,181.42 75.23,182.12 76.58,182.84 77.92,183.68 79.27,184.95 80.62,185.65 81.96,186.41 83.31,187.17 84.65,187.52 86,188.5 87.39,189.2 88.78,190.26 90.17,191.16 91.56,192.08 92.94,192.93 94.33,193.21 95.72,194.41 97.11,195.29 98.5,196 99.89,196.7 101.28,197.16 102.67,198.06 104.06,198.49 105.44,199.78 106.83,200.42 108.22,200.89 109.61,201.42 111,202.25 112.39,203.37 113.78,203.97 115.17,205.02 116.56,205.83 117.94,206.42 119.33,207.19 120.72,208.15 122.11,208.87 123.5,209.75 125,210.51 126.5,211.61 128,212.97 129.5,213.43 131,214.75 132.5,215.18 134,216.34 135.5,216.85 137,217.77 138.5,218.5 140,218.58 141.5,218.59 143,219.15 144.5,218.69 146,219 147.67,219.77 149.33,220.46 151,221.5 152.5,222.68 154,223.51 155.5,224.75 156.5,219.75" fill="none" stroke="#5fb84c" stroke-width="1.2" stroke-linejoin="round"/>
<rect x="39.4" y="170.1" width="121.9" height="120.9" fill="none" stroke="#1a1a1a" stroke-width="1.3"/>
<line x1="37.2" y1="227.27" x2="39.4" y2="227.27" stroke="#1a1a1a" stroke-width="0.8"/>
<text x="35" y="229.57" font-size="6.5" text-anchor="end">−0.1</text>
<line x1="37.2" y1="220.2" x2="39.4" y2="220.2" stroke="#1a1a1a" stroke-width="0.8"/>
<text x="35" y="222.5" font-size="6.5" text-anchor="end">0.0</text>
<line x1="37.2" y1="213.13" x2="39.4" y2="213.13" stroke="#1a1a1a" stroke-width="0.8"/>
<text x="35" y="215.43" font-size="6.5" text-anchor="end">0.1</text>
<line x1="37.2" y1="206.06" x2="39.4" y2="206.06" stroke="#1a1a1a" stroke-width="0.8"/>
<text x="35" y="208.36" font-size="6.5" text-anchor="end">0.2</text>
<line x1="37.2" y1="198.99" x2="39.4" y2="198.99" stroke="#1a1a1a" stroke-width="0.8"/>
<text x="35" y="201.29" font-size="6.5" text-anchor="end">0.3</text>
<line x1="37.2" y1="191.92" x2="39.4" y2="191.92" stroke="#1a1a1a" stroke-width="0.8"/>
<text x="35" y="194.22" font-size="6.5" text-anchor="end">0.4</text>
<line x1="37.2" y1="184.85" x2="39.4" y2="184.85" stroke="#1a1a1a" stroke-width="0.8"/>
<text x="35" y="187.15" font-size="6.5" text-anchor="end">0.5</text>
<line x1="37.2" y1="177.78" x2="39.4" y2="177.78" stroke="#1a1a1a" stroke-width="0.8"/>
<text x="35" y="180.08" font-size="6.5" text-anchor="end">0.6</text>
<line x1="37.2" y1="170.71" x2="39.4" y2="170.71" stroke="#1a1a1a" stroke-width="0.8"/>
<text x="35" y="173.01" font-size="6.5" text-anchor="end">0.7</text>
<text x="36.8" y="257.72" font-size="6.5" text-anchor="end">30</text>
<text x="36.8" y="263.68" font-size="6.5" text-anchor="end">20</text>
<text x="36.8" y="269.64" font-size="6.5" text-anchor="end">10</text>
<text x="36.8" y="275.6" font-size="6.5" text-anchor="end">0</text>
<text x="36.8" y="281.56" font-size="6.5" text-anchor="end">−10</text>
<text x="36.8" y="287.52" font-size="6.5" text-anchor="end">−20</text>
<text x="36.8" y="293.48" font-size="6.5" text-anchor="end">−30</text>
<line x1="39.4" y1="291" x2="39.4" y2="292.6" stroke="#1a1a1a" stroke-width="0.8"/>
<text x="39.4" y="297.9" font-size="4.6" text-anchor="middle">0</text>
<line x1="52.94" y1="291" x2="52.94" y2="292.6" stroke="#1a1a1a" stroke-width="0.8"/>
<text x="52.94" y="297.9" font-size="4.6" text-anchor="middle">1,000</text>
<line x1="66.49" y1="291" x2="66.49" y2="292.6" stroke="#1a1a1a" stroke-width="0.8"/>
<text x="66.49" y="297.9" font-size="4.6" text-anchor="middle">2,000</text>
<line x1="80.03" y1="291" x2="80.03" y2="292.6" stroke="#1a1a1a" stroke-width="0.8"/>
<text x="80.03" y="297.9" font-size="4.6" text-anchor="middle">3,000</text>
<line x1="93.58" y1="291" x2="93.58" y2="292.6" stroke="#1a1a1a" stroke-width="0.8"/>
<text x="93.58" y="297.9" font-size="4.6" text-anchor="middle">4,000</text>
<line x1="107.12" y1="291" x2="107.12" y2="292.6" stroke="#1a1a1a" stroke-width="0.8"/>
<text x="107.12" y="297.9" font-size="4.6" text-anchor="middle">5,000</text>
<line x1="120.67" y1="291" x2="120.67" y2="292.6" stroke="#1a1a1a" stroke-width="0.8"/>
<text x="120.67" y="297.9" font-size="4.6" text-anchor="middle">6,000</text>
<line x1="134.21" y1="291" x2="134.21" y2="292.6" stroke="#1a1a1a" stroke-width="0.8"/>
<text x="134.21" y="297.9" font-size="4.6" text-anchor="middle">7,000</text>
<line x1="147.76" y1="291" x2="147.76" y2="292.6" stroke="#1a1a1a" stroke-width="0.8"/>
<text x="147.76" y="297.9" font-size="4.6" text-anchor="middle">8,000</text>
<line x1="161.3" y1="291" x2="161.3" y2="292.6" stroke="#1a1a1a" stroke-width="0.8"/>
<text x="161.3" y="297.9" font-size="4.6" text-anchor="middle">9,000</text>
<text x="99" y="166.6" font-size="6.4" text-anchor="middle" textLength="84.4" lengthAdjust="spacingAndGlyphs">HOMOPHILI C_CELL_ADHESION</text>
<text x="140.45" y="179.6" font-size="6.3" text-anchor="middle" textLength="29.1" lengthAdjust="spacingAndGlyphs">NES = 2.15</text>
<text x="140.1" y="186.8" font-size="6.3" text-anchor="middle" textLength="31.6" lengthAdjust="spacingAndGlyphs">FDR = 0.014</text>
<text x="20.82" y="196.6" font-size="7.1" text-anchor="middle" textLength="63.6" lengthAdjust="spacingAndGlyphs" transform="rotate(-90 20.82 196.6)">Enrichment score (ES)</text>
<text x="12.86" y="273.2" font-size="7.1" text-anchor="middle" textLength="45" lengthAdjust="spacingAndGlyphs" transform="rotate(-90 12.86 273.2)">Rank list metric</text>
<text x="21.12" y="273.2" font-size="7.1" text-anchor="middle" textLength="36.4" lengthAdjust="spacingAndGlyphs" transform="rotate(-90 21.12 273.2)">(PreRanked)</text>
<line x1="227.94" y1="176.6" x2="227.94" y2="233" stroke="#f1f1f1" stroke-width="0.5"/>
<line x1="227.94" y1="258.2" x2="227.94" y2="296.6" stroke="#f1f1f1" stroke-width="0.5"/>
<line x1="241.39" y1="176.6" x2="241.39" y2="233" stroke="#f1f1f1" stroke-width="0.5"/>
<line x1="241.39" y1="258.2" x2="241.39" y2="296.6" stroke="#f1f1f1" stroke-width="0.5"/>
<line x1="254.83" y1="176.6" x2="254.83" y2="233" stroke="#f1f1f1" stroke-width="0.5"/>
<line x1="254.83" y1="258.2" x2="254.83" y2="296.6" stroke="#f1f1f1" stroke-width="0.5"/>
<line x1="268.28" y1="176.6" x2="268.28" y2="233" stroke="#f1f1f1" stroke-width="0.5"/>
<line x1="268.28" y1="258.2" x2="268.28" y2="296.6" stroke="#f1f1f1" stroke-width="0.5"/>
<line x1="281.72" y1="176.6" x2="281.72" y2="233" stroke="#f1f1f1" stroke-width="0.5"/>
<line x1="281.72" y1="258.2" x2="281.72" y2="296.6" stroke="#f1f1f1" stroke-width="0.5"/>
<line x1="295.17" y1="176.6" x2="295.17" y2="233" stroke="#f1f1f1" stroke-width="0.5"/>
<line x1="295.17" y1="258.2" x2="295.17" y2="296.6" stroke="#f1f1f1" stroke-width="0.5"/>
<line x1="308.61" y1="176.6" x2="308.61" y2="233" stroke="#f1f1f1" stroke-width="0.5"/>
<line x1="308.61" y1="258.2" x2="308.61" y2="296.6" stroke="#f1f1f1" stroke-width="0.5"/>
<line x1="322.06" y1="176.6" x2="322.06" y2="233" stroke="#f1f1f1" stroke-width="0.5"/>
<line x1="322.06" y1="258.2" x2="322.06" y2="296.6" stroke="#f1f1f1" stroke-width="0.5"/>
<line x1="214" y1="226.8" x2="335.8" y2="226.8" stroke="#f1f1f1" stroke-width="0.5"/>
<line x1="214" y1="216.2" x2="335.8" y2="216.2" stroke="#f1f1f1" stroke-width="0.5"/>
<line x1="214" y1="205.6" x2="335.8" y2="205.6" stroke="#f1f1f1" stroke-width="0.5"/>
<line x1="214" y1="195" x2="335.8" y2="195" stroke="#f1f1f1" stroke-width="0.5"/>
<line x1="214" y1="184.4" x2="335.8" y2="184.4" stroke="#f1f1f1" stroke-width="0.5"/>
<line x1="214" y1="184.4" x2="335.8" y2="184.4" stroke="#c8c8c8" stroke-width="0.6"/>
<line x1="214" y1="265.8" x2="335.8" y2="265.8" stroke="#f3eeee" stroke-width="0.5"/>
<line x1="214" y1="271.6" x2="335.8" y2="271.6" stroke="#f3eeee" stroke-width="0.5"/>
<line x1="214" y1="283.2" x2="335.8" y2="283.2" stroke="#f3eeee" stroke-width="0.5"/>
<line x1="214" y1="289" x2="335.8" y2="289" stroke="#f3eeee" stroke-width="0.5"/>
<line x1="214" y1="233" x2="335.8" y2="233" stroke="#e4e4e4" stroke-width="0.5"/>
<rect x="214.4" y="233.7" width="1.8" height="19.2" fill="#000" fill-opacity="0.25"/>
<rect x="216.2" y="233.7" width="1.8" height="19.2" fill="#000" fill-opacity="0.45"/>
<rect x="219.2" y="233.7" width="1.7" height="19.2" fill="#000" fill-opacity="0.6"/>
<rect x="225.1" y="233.7" width="1.8" height="19.2" fill="#000" fill-opacity="0.25"/>
<rect x="226.9" y="233.7" width="1.8" height="19.2" fill="#000" fill-opacity="0.45"/>
<rect x="229.9" y="233.7" width="1.8" height="19.2" fill="#000" fill-opacity="0.45"/>
<rect x="231.7" y="233.7" width="1.8" height="19.2" fill="#000" fill-opacity="0.14"/>
<rect x="233.5" y="233.7" width="1.7" height="19.2" fill="#000" fill-opacity="0.45"/>
<rect x="235.8" y="233.7" width="3" height="19.2" fill="#000" fill-opacity="0.45"/>
<rect x="238.8" y="233.7" width="1.2" height="19.2" fill="#000" fill-opacity="0.14"/>
<rect x="240" y="233.7" width="1.6" height="19.2" fill="#000" fill-opacity="0.45"/>
<rect x="241.6" y="233.7" width="1.4" height="19.2" fill="#000" fill-opacity="0.14"/>
<rect x="246.6" y="233.7" width="2.3" height="19.2" fill="#000" fill-opacity="0.6"/>
<rect x="248.9" y="233.7" width="1.8" height="19.2" fill="#000" fill-opacity="0.45"/>
<rect x="250.7" y="233.7" width="1.8" height="19.2" fill="#000" fill-opacity="0.14"/>
<rect x="252.5" y="233.7" width="2.4" height="19.2" fill="#000" fill-opacity="0.45"/>
<rect x="254.9" y="233.7" width="1.8" height="19.2" fill="#000" fill-opacity="0.14"/>
<rect x="256.7" y="233.7" width="2.4" height="19.2" fill="#000" fill-opacity="0.6"/>
<rect x="259.1" y="233.7" width="1.2" height="19.2" fill="#000" fill-opacity="0.14"/>
<rect x="260.3" y="233.7" width="2.4" height="19.2" fill="#000" fill-opacity="0.72"/>
<rect x="262.7" y="233.7" width="2.3" height="19.2" fill="#000" fill-opacity="0.45"/>
<rect x="265" y="233.7" width="2.4" height="19.2" fill="#000" fill-opacity="0.6"/>
<rect x="267.4" y="233.7" width="1.8" height="19.2" fill="#000" fill-opacity="0.14"/>
<rect x="269.2" y="233.7" width="1.8" height="19.2" fill="#000" fill-opacity="0.45"/>
<rect x="271" y="233.7" width="1" height="19.2" fill="#000" fill-opacity="0.25"/>
<rect x="272" y="233.7" width="3.6" height="19.2" fill="#000" fill-opacity="0.45"/>
<rect x="276.8" y="233.7" width="2.4" height="19.2" fill="#000" fill-opacity="0.45"/>
<rect x="279.2" y="233.7" width="1.7" height="19.2" fill="#000" fill-opacity="0.14"/>
<rect x="280.9" y="233.7" width="2.4" height="19.2" fill="#000" fill-opacity="0.6"/>
<rect x="283.3" y="233.7" width="0.6" height="19.2" fill="#000" fill-opacity="0.14"/>
<rect x="283.9" y="233.7" width="3.6" height="19.2" fill="#000" fill-opacity="0.45"/>
<rect x="287.5" y="233.7" width="1.2" height="19.2" fill="#000" fill-opacity="0.14"/>
<rect x="288.7" y="233.7" width="3.6" height="19.2" fill="#000" fill-opacity="0.6"/>
<rect x="292.3" y="233.7" width="1.7" height="19.2" fill="#000" fill-opacity="0.45"/>
<rect x="294" y="233.7" width="1.8" height="19.2" fill="#000" fill-opacity="0.14"/>
<rect x="295.8" y="233.7" width="1.2" height="19.2" fill="#000" fill-opacity="0.45"/>
<rect x="298.2" y="233.7" width="4.8" height="19.2" fill="#000" fill-opacity="0.38"/>
<rect x="303" y="233.7" width="1.8" height="19.2" fill="#000" fill-opacity="0.72"/>
<rect x="304.8" y="233.7" width="1.8" height="19.2" fill="#000" fill-opacity="0.88"/>
<rect x="308.4" y="233.7" width="1.7" height="19.2" fill="#000" fill-opacity="0.45"/>
<rect x="310.1" y="233.7" width="6" height="19.2" fill="#000" fill-opacity="0.6"/>
<rect x="316.1" y="233.7" width="3" height="19.2" fill="#000" fill-opacity="0.45"/>
<rect x="319.1" y="233.7" width="1.8" height="19.2" fill="#000" fill-opacity="0.14"/>
<rect x="320.9" y="233.7" width="1.8" height="19.2" fill="#000" fill-opacity="0.45"/>
<rect x="322.7" y="233.7" width="2.3" height="19.2" fill="#000" fill-opacity="0.72"/>
<rect x="325" y="233.7" width="1.8" height="19.2" fill="#000" fill-opacity="0.45"/>
<rect x="326.8" y="233.7" width="2.4" height="19.2" fill="#000" fill-opacity="0.25"/>
<rect x="329.2" y="233.7" width="1.2" height="19.2" fill="#000" fill-opacity="0.45"/>
<rect x="214.3" y="253.1" width="11.89" height="4.6" fill="#e8323e"/>
<rect x="225.89" y="253.1" width="22.32" height="4.6" fill="#eb4654"/>
<rect x="247.91" y="253.1" width="16.53" height="4.6" fill="#f2aac8"/>
<rect x="264.14" y="253.1" width="3.78" height="4.6" fill="#e8cce8"/>
<rect x="267.61" y="253.1" width="14.21" height="4.6" fill="#d2d2f1"/>
<rect x="281.52" y="253.1" width="13.05" height="4.6" fill="#c2c2eb"/>
<rect x="294.27" y="253.1" width="11.89" height="4.6" fill="#5e5ec4"/>
<rect x="305.86" y="253.1" width="20" height="4.6" fill="#4444b2"/>
<rect x="325.56" y="253.1" width="4.94" height="4.6" fill="#2a2a9e"/>
<polygon points="214.3,277.4 214.3,271.31 214.83,271.74 215.35,272.12 215.88,272.47 216.41,272.79 216.93,273.08 217.46,273.35 217.99,273.59 218.51,273.81 219.04,274.01 219.57,274.19 220.09,274.36 220.62,274.52 221.15,274.66 221.68,274.79 222.2,274.91 222.73,275.02 223.26,275.13 223.78,275.22 224.31,275.31 224.84,275.4 225.36,275.48 225.89,275.55 226.42,275.62 226.94,275.69 227.47,275.75 228,275.81 228.52,275.86 229.05,275.91 229.58,275.96 230.1,276.01 230.63,276.06 231.16,276.1 231.69,276.14 232.21,276.18 232.74,276.22 233.27,276.26 233.79,276.29 234.32,276.32 234.85,276.36 235.37,276.39 235.9,276.42 236.43,276.45 236.95,276.48 237.48,276.51 238.01,276.54 238.53,276.56 239.06,276.59 239.59,276.61 240.11,276.64 240.64,276.66 241.17,276.68 241.69,276.71 242.22,276.73 242.75,276.75 243.28,276.77 243.8,276.79 244.33,276.81 244.86,276.83 245.38,276.85 245.91,276.87 246.44,276.89 246.96,276.91 247.49,276.93 248.02,276.95 248.54,276.96 249.07,276.98 249.6,277 250.12,277.01 250.65,277.03 251.18,277.05 251.7,277.06 252.23,277.08 252.76,277.09 253.28,277.11 253.81,277.12 254.34,277.14 254.87,277.15 255.39,277.16 255.92,277.18 256.45,277.19 256.97,277.2 257.5,277.22 258.03,277.23 258.55,277.24 259.08,277.25 259.61,277.26 260.13,277.28 260.66,277.29 261.19,277.3 261.71,277.31 262.24,277.32 262.77,277.33 263.29,277.34 263.82,277.35 264.35,277.36 264.87,277.37 265.4,277.38 265.93,277.39 266.45,277.41 266.98,277.44 267.51,277.46 268.04,277.49 268.56,277.51 269.09,277.54 269.62,277.57 270.14,277.59 270.67,277.62 271.2,277.65 271.72,277.67 272.25,277.7 272.78,277.72 273.3,277.75 273.83,277.78 274.36,277.8 274.88,277.83 275.41,277.86 275.94,277.88 276.46,277.91 276.99,277.94 277.52,277.96 278.05,277.99 278.57,278.02 279.1,278.04 279.63,278.07 280.15,278.1 280.68,278.13 281.21,278.15 281.73,278.18 282.26,278.21 282.79,278.23 283.31,278.26 283.84,278.29 284.37,278.32 284.89,278.35 285.42,278.38 285.95,278.4 286.47,278.43 287,278.46 287.53,278.49 288.05,278.52 288.58,278.55 289.11,278.58 289.63,278.61 290.16,278.64 290.69,278.67 291.22,278.7 291.74,278.73 292.27,278.77 292.8,278.8 293.32,278.83 293.85,278.86 294.38,278.9 294.9,278.93 295.43,278.96 295.96,279 296.48,279.03 297.01,279.07 297.54,279.1 298.06,279.14 298.59,279.18 299.12,279.21 299.64,279.25 300.17,279.29 300.7,279.33 301.23,279.37 301.75,279.41 302.28,279.45 302.81,279.49 303.33,279.53 303.86,279.57 304.39,279.62 304.91,279.66 305.44,279.71 305.97,279.75 306.49,279.8 307.02,279.84 307.55,279.89 308.07,279.94 308.6,279.99 309.13,280.04 309.65,280.09 310.18,280.15 310.71,280.2 311.23,280.25 311.76,280.31 312.29,280.37 312.81,280.42 313.34,280.48 313.87,280.54 314.4,280.6 314.92,280.66 315.45,280.73 315.98,280.79 316.5,280.86 317.03,280.92 317.56,280.99 318.08,281.06 318.61,281.13 319.14,281.21 319.66,281.28 320.19,281.36 320.72,281.44 321.24,281.52 321.77,281.61 322.3,281.7 322.82,281.8 323.35,281.9 323.88,282.02 324.4,282.16 324.93,282.32 325.46,282.51 325.99,282.76 326.51,283.08 327.04,283.51 327.57,284.1 328.09,284.92 328.62,286.09 329.15,287.77 329.67,290.18 330.2,293.7 330.2,277.4" fill="#cbcbcb" stroke="#b0b0b0" stroke-width="0.3"/>
<line x1="214.3" y1="277.4" x2="330.2" y2="277.4" stroke="#9a9a9a" stroke-width="0.4"/>
<text x="214.6" y="260.7" font-size="2.9" fill="#e0303c" textLength="41.72" lengthAdjust="spacingAndGlyphs">'na_pos' (positively correlated)</text>
<text x="254.28" y="277.1" font-size="2.7" fill="#333" textLength="22.6" lengthAdjust="spacingAndGlyphs">Zero cross at 3857</text>
<text x="296.01" y="294.2" font-size="2.9" text-anchor="middle" fill="#3030c0" textLength="42.88" lengthAdjust="spacingAndGlyphs">'na_neg' (negatively correlated)</text>
<polyline points="214.2,184.2 215.5,182 217.5,180.75 218.75,181.5 220.5,178.25 222.5,180.75 225,182.5 226.67,183.17 228.33,183.84 230,184 231.67,185 233.33,185.79 235,185.75 236.67,186.67 238.33,187.51 240,187.5 241.67,187.92 243.33,189.62 245,190.75 246.5,192.37 248,192.96 249.5,194.31 251,194.21 252.5,195.75 254,196.86 255.5,197.7 257,199.26 258.5,200.45 260,201.5 261.39,201.85 262.78,203.16 264.17,204.27 265.56,206.19 266.94,207.01 268.33,207.19 269.72,209.11 271.11,209.22 272.5,210.75 273.89,211.89 275.28,212.17 276.67,212.97 278.06,215.16 279.44,215.2 280.83,216.19 282.22,218.23 283.61,219.05 285,219.5 286.67,220.87 288.33,223.48 290,224.5 291.67,224.97 293.33,225.58 295,225.75 296.67,226.17 298.33,228.03 300,228.25 301.88,229.39 303.75,230 306.25,229 307.5,225.75 309.5,226.5 311,225.53 312.5,223.25 314.38,221.3 316.25,218.25 318.12,217.09 320,216.5 322.5,213.25 324.5,204.5 326.25,197 328,192 329.5,189.5 330.5,183.25" fill="none" stroke="#5fb84c" stroke-width="1.2" stroke-linejoin="round"/>
<rect x="214" y="175.6" width="121.8" height="121" fill="none" stroke="#1a1a1a" stroke-width="1.3"/>
<line x1="211.8" y1="226.8" x2="214" y2="226.8" stroke="#1a1a1a" stroke-width="0.8"/>
<text x="209.6" y="229.1" font-size="6.5" text-anchor="end">−0.4</text>
<line x1="211.8" y1="216.2" x2="214" y2="216.2" stroke="#1a1a1a" stroke-width="0.8"/>
<text x="209.6" y="218.5" font-size="6.5" text-anchor="end">−0.3</text>
<line x1="211.8" y1="205.6" x2="214" y2="205.6" stroke="#1a1a1a" stroke-width="0.8"/>
<text x="209.6" y="207.9" font-size="6.5" text-anchor="end">−0.2</text>
<line x1="211.8" y1="195" x2="214" y2="195" stroke="#1a1a1a" stroke-width="0.8"/>
<text x="209.6" y="197.3" font-size="6.5" text-anchor="end">−0.1</text>
<line x1="211.8" y1="184.4" x2="214" y2="184.4" stroke="#1a1a1a" stroke-width="0.8"/>
<text x="209.6" y="186.7" font-size="6.5" text-anchor="end">0.0</text>
<text x="211.4" y="262.3" font-size="6.5" text-anchor="end">30</text>
<text x="211.4" y="268.1" font-size="6.5" text-anchor="end">20</text>
<text x="211.4" y="273.9" font-size="6.5" text-anchor="end">10</text>
<text x="211.4" y="279.7" font-size="6.5" text-anchor="end">0</text>
<text x="211.4" y="285.5" font-size="6.5" text-anchor="end">−10</text>
<text x="211.4" y="291.3" font-size="6.5" text-anchor="end">−20</text>
<text x="211.4" y="297.1" font-size="6.5" text-anchor="end">−30</text>
<line x1="214.5" y1="296.6" x2="214.5" y2="298.2" stroke="#1a1a1a" stroke-width="0.8"/>
<text x="214.5" y="303.5" font-size="4.6" text-anchor="middle">0</text>
<line x1="227.94" y1="296.6" x2="227.94" y2="298.2" stroke="#1a1a1a" stroke-width="0.8"/>
<text x="227.94" y="303.5" font-size="4.6" text-anchor="middle">1,000</text>
<line x1="241.39" y1="296.6" x2="241.39" y2="298.2" stroke="#1a1a1a" stroke-width="0.8"/>
<text x="241.39" y="303.5" font-size="4.6" text-anchor="middle">2,000</text>
<line x1="254.83" y1="296.6" x2="254.83" y2="298.2" stroke="#1a1a1a" stroke-width="0.8"/>
<text x="254.83" y="303.5" font-size="4.6" text-anchor="middle">3,000</text>
<line x1="268.28" y1="296.6" x2="268.28" y2="298.2" stroke="#1a1a1a" stroke-width="0.8"/>
<text x="268.28" y="303.5" font-size="4.6" text-anchor="middle">4,000</text>
<line x1="281.72" y1="296.6" x2="281.72" y2="298.2" stroke="#1a1a1a" stroke-width="0.8"/>
<text x="281.72" y="303.5" font-size="4.6" text-anchor="middle">5,000</text>
<line x1="295.17" y1="296.6" x2="295.17" y2="298.2" stroke="#1a1a1a" stroke-width="0.8"/>
<text x="295.17" y="303.5" font-size="4.6" text-anchor="middle">6,000</text>
<line x1="308.61" y1="296.6" x2="308.61" y2="298.2" stroke="#1a1a1a" stroke-width="0.8"/>
<text x="308.61" y="303.5" font-size="4.6" text-anchor="middle">7,000</text>
<line x1="322.06" y1="296.6" x2="322.06" y2="298.2" stroke="#1a1a1a" stroke-width="0.8"/>
<text x="322.06" y="303.5" font-size="4.6" text-anchor="middle">8,000</text>
<line x1="335.5" y1="296.6" x2="335.5" y2="298.2" stroke="#1a1a1a" stroke-width="0.8"/>
<text x="335.5" y="303.5" font-size="4.6" text-anchor="middle">9,000</text>
<text x="273.3" y="170.3" font-size="6.4" text-anchor="middle" textLength="88.6" lengthAdjust="spacingAndGlyphs">HALLMARK_MTORC1_SIGNALING</text>
<text x="234.3" y="219.6" font-size="6.3" text-anchor="middle" textLength="31.2" lengthAdjust="spacingAndGlyphs">NES = −1.75</text>
<text x="234.3" y="227.1" font-size="6.3" text-anchor="middle" textLength="31.2" lengthAdjust="spacingAndGlyphs">FDR = 0.015</text>
<text x="194.22" y="205.5" font-size="7.1" text-anchor="middle" textLength="63.9" lengthAdjust="spacingAndGlyphs" transform="rotate(-90 194.22 205.5)">Enrichment score (ES)</text>
<text x="187.66" y="277.5" font-size="7.1" text-anchor="middle" textLength="45" lengthAdjust="spacingAndGlyphs" transform="rotate(-90 187.66 277.5)">Rank list metric</text>
<text x="196.02" y="277.9" font-size="7.1" text-anchor="middle" textLength="37.2" lengthAdjust="spacingAndGlyphs" transform="rotate(-90 196.02 277.9)">(PreRanked)</text>
<line x1="400.8" y1="176.6" x2="400.8" y2="233" stroke="#f1f1f1" stroke-width="0.5"/>
<line x1="400.8" y1="258.8" x2="400.8" y2="298" stroke="#f1f1f1" stroke-width="0.5"/>
<line x1="414.2" y1="176.6" x2="414.2" y2="233" stroke="#f1f1f1" stroke-width="0.5"/>
<line x1="414.2" y1="258.8" x2="414.2" y2="298" stroke="#f1f1f1" stroke-width="0.5"/>
<line x1="427.6" y1="176.6" x2="427.6" y2="233" stroke="#f1f1f1" stroke-width="0.5"/>
<line x1="427.6" y1="258.8" x2="427.6" y2="298" stroke="#f1f1f1" stroke-width="0.5"/>
<line x1="441" y1="176.6" x2="441" y2="233" stroke="#f1f1f1" stroke-width="0.5"/>
<line x1="441" y1="258.8" x2="441" y2="298" stroke="#f1f1f1" stroke-width="0.5"/>
<line x1="454.4" y1="176.6" x2="454.4" y2="233" stroke="#f1f1f1" stroke-width="0.5"/>
<line x1="454.4" y1="258.8" x2="454.4" y2="298" stroke="#f1f1f1" stroke-width="0.5"/>
<line x1="467.8" y1="176.6" x2="467.8" y2="233" stroke="#f1f1f1" stroke-width="0.5"/>
<line x1="467.8" y1="258.8" x2="467.8" y2="298" stroke="#f1f1f1" stroke-width="0.5"/>
<line x1="481.2" y1="176.6" x2="481.2" y2="233" stroke="#f1f1f1" stroke-width="0.5"/>
<line x1="481.2" y1="258.8" x2="481.2" y2="298" stroke="#f1f1f1" stroke-width="0.5"/>
<line x1="494.6" y1="176.6" x2="494.6" y2="233" stroke="#f1f1f1" stroke-width="0.5"/>
<line x1="494.6" y1="258.8" x2="494.6" y2="298" stroke="#f1f1f1" stroke-width="0.5"/>
<line x1="387.2" y1="230.08" x2="508" y2="230.08" stroke="#f1f1f1" stroke-width="0.5"/>
<line x1="387.2" y1="223.97" x2="508" y2="223.97" stroke="#f1f1f1" stroke-width="0.5"/>
<line x1="387.2" y1="217.86" x2="508" y2="217.86" stroke="#f1f1f1" stroke-width="0.5"/>
<line x1="387.2" y1="211.75" x2="508" y2="211.75" stroke="#f1f1f1" stroke-width="0.5"/>
<line x1="387.2" y1="205.64" x2="508" y2="205.64" stroke="#f1f1f1" stroke-width="0.5"/>
<line x1="387.2" y1="199.53" x2="508" y2="199.53" stroke="#f1f1f1" stroke-width="0.5"/>
<line x1="387.2" y1="193.42" x2="508" y2="193.42" stroke="#f1f1f1" stroke-width="0.5"/>
<line x1="387.2" y1="187.31" x2="508" y2="187.31" stroke="#f1f1f1" stroke-width="0.5"/>
<line x1="387.2" y1="181.2" x2="508" y2="181.2" stroke="#f1f1f1" stroke-width="0.5"/>
<line x1="387.2" y1="181.2" x2="508" y2="181.2" stroke="#c8c8c8" stroke-width="0.6"/>
<line x1="387.2" y1="267.4" x2="508" y2="267.4" stroke="#f3eeee" stroke-width="0.5"/>
<line x1="387.2" y1="273.3" x2="508" y2="273.3" stroke="#f3eeee" stroke-width="0.5"/>
<line x1="387.2" y1="285.1" x2="508" y2="285.1" stroke="#f3eeee" stroke-width="0.5"/>
<line x1="387.2" y1="291" x2="508" y2="291" stroke="#f3eeee" stroke-width="0.5"/>
<line x1="387.2" y1="233.3" x2="508" y2="233.3" stroke="#e4e4e4" stroke-width="0.5"/>
<rect x="393.9" y="234" width="1.6" height="19.1" fill="#000" fill-opacity="0.25"/>
<rect x="395.5" y="234" width="1.4" height="19.1" fill="#000" fill-opacity="0.45"/>
<rect x="396.9" y="234" width="1.2" height="19.1" fill="#000" fill-opacity="0.14"/>
<rect x="398.1" y="234" width="1.8" height="19.1" fill="#000" fill-opacity="0.45"/>
<rect x="401.7" y="234" width="3" height="19.1" fill="#000" fill-opacity="0.6"/>
<rect x="404.7" y="234" width="2.3" height="19.1" fill="#000" fill-opacity="0.14"/>
<rect x="407" y="234" width="1.8" height="19.1" fill="#000" fill-opacity="0.6"/>
<rect x="408.8" y="234" width="1.2" height="19.1" fill="#000" fill-opacity="0.45"/>
<rect x="414.2" y="234" width="4.8" height="19.1" fill="#000" fill-opacity="0.25"/>
<rect x="420.8" y="234" width="2.3" height="19.1" fill="#000" fill-opacity="0.72"/>
<rect x="423.1" y="234" width="1.2" height="19.1" fill="#000" fill-opacity="0.45"/>
<rect x="424.3" y="234" width="1.8" height="19.1" fill="#000" fill-opacity="0.14"/>
<rect x="426.1" y="234" width="2.4" height="19.1" fill="#000" fill-opacity="0.72"/>
<rect x="428.5" y="234" width="2.4" height="19.1" fill="#000" fill-opacity="0.25"/>
<rect x="430.9" y="234" width="1.8" height="19.1" fill="#000" fill-opacity="0.45"/>
<rect x="432.7" y="234" width="1.2" height="19.1" fill="#000" fill-opacity="0.14"/>
<rect x="433.9" y="234" width="2.4" height="19.1" fill="#000" fill-opacity="0.45"/>
<rect x="436.3" y="234" width="2.9" height="19.1" fill="#000" fill-opacity="0.72"/>
<rect x="439.2" y="234" width="1.2" height="19.1" fill="#000" fill-opacity="0.14"/>
<rect x="440.4" y="234" width="1.8" height="19.1" fill="#000" fill-opacity="0.45"/>
<rect x="444" y="234" width="1" height="19.1" fill="#000" fill-opacity="0.45"/>
<rect x="445" y="234" width="1.4" height="19.1" fill="#000" fill-opacity="0.14"/>
<rect x="446.4" y="234" width="1.6" height="19.1" fill="#000" fill-opacity="0.6"/>
<rect x="448" y="234" width="1.2" height="19.1" fill="#000" fill-opacity="0.45"/>
<rect x="449.2" y="234" width="1.2" height="19.1" fill="#000" fill-opacity="0.72"/>
<rect x="450.4" y="234" width="1.2" height="19.1" fill="#000" fill-opacity="0.45"/>
<rect x="451.6" y="234" width="1.1" height="19.1" fill="#000" fill-opacity="0.88"/>
<rect x="452.7" y="234" width="1.8" height="19.1" fill="#000" fill-opacity="0.45"/>
<rect x="454.5" y="234" width="1.2" height="19.1" fill="#000" fill-opacity="0.14"/>
<rect x="455.7" y="234" width="2.4" height="19.1" fill="#000" fill-opacity="0.45"/>
<rect x="458.1" y="234" width="1.8" height="19.1" fill="#000" fill-opacity="0.25"/>
<rect x="459.9" y="234" width="1.2" height="19.1" fill="#000" fill-opacity="0.72"/>
<rect x="461.1" y="234" width="1.2" height="19.1" fill="#000" fill-opacity="0.45"/>
<rect x="462.3" y="234" width="2.4" height="19.1" fill="#000" fill-opacity="0.6"/>
<rect x="464.7" y="234" width="1.8" height="19.1" fill="#000" fill-opacity="0.88"/>
<rect x="466.5" y="234" width="1.1" height="19.1" fill="#000" fill-opacity="0.45"/>
<rect x="468.8" y="234" width="3" height="19.1" fill="#000" fill-opacity="0.45"/>
<rect x="471.8" y="234" width="1.8" height="19.1" fill="#000" fill-opacity="0.72"/>
<rect x="473.6" y="234" width="2.4" height="19.1" fill="#000" fill-opacity="0.6"/>
<rect x="476" y="234" width="2.4" height="19.1" fill="#000" fill-opacity="0.88"/>
<rect x="478.4" y="234" width="1.8" height="19.1" fill="#000" fill-opacity="0.6"/>
<rect x="480.2" y="234" width="1.2" height="19.1" fill="#000" fill-opacity="0.14"/>
<rect x="481.4" y="234" width="3.5" height="19.1" fill="#000" fill-opacity="0.45"/>
<rect x="484.9" y="234" width="1.8" height="19.1" fill="#000" fill-opacity="0.6"/>
<rect x="486.7" y="234" width="1.8" height="19.1" fill="#000" fill-opacity="0.14"/>
<rect x="488.5" y="234" width="2.4" height="19.1" fill="#000" fill-opacity="0.72"/>
<rect x="490.9" y="234" width="1.2" height="19.1" fill="#000" fill-opacity="0.14"/>
<rect x="492.1" y="234" width="1.8" height="19.1" fill="#000" fill-opacity="0.6"/>
<rect x="493.9" y="234" width="1.8" height="19.1" fill="#000" fill-opacity="0.45"/>
<rect x="495.7" y="234" width="1.7" height="19.1" fill="#000" fill-opacity="0.45"/>
<rect x="497.4" y="234" width="1.8" height="19.1" fill="#000" fill-opacity="0.25"/>
<rect x="499.2" y="234" width="3" height="19.1" fill="#000" fill-opacity="0.14"/>
<rect x="387.6" y="253.3" width="11.94" height="5" fill="#e8323e"/>
<rect x="399.24" y="253.3" width="22.42" height="5" fill="#eb4654"/>
<rect x="421.36" y="253.3" width="16.6" height="5" fill="#f2aac8"/>
<rect x="437.65" y="253.3" width="3.79" height="5" fill="#e8cce8"/>
<rect x="441.14" y="253.3" width="14.27" height="5" fill="#d2d2f1"/>
<rect x="455.11" y="253.3" width="13.1" height="5" fill="#c2c2eb"/>
<rect x="467.92" y="253.3" width="11.94" height="5" fill="#5e5ec4"/>
<rect x="479.56" y="253.3" width="20.09" height="5" fill="#4444b2"/>
<rect x="499.34" y="253.3" width="4.96" height="5" fill="#2a2a9e"/>
<polygon points="387.6,279.2 387.6,273 388.13,273.44 388.66,273.83 389.19,274.19 389.72,274.51 390.25,274.81 390.77,275.08 391.3,275.32 391.83,275.55 392.36,275.75 392.89,275.94 393.42,276.11 393.95,276.27 394.48,276.41 395.01,276.54 395.54,276.67 396.07,276.78 396.59,276.89 397.12,276.99 397.65,277.08 398.18,277.16 398.71,277.24 399.24,277.32 399.77,277.39 400.3,277.46 400.83,277.52 401.36,277.58 401.89,277.63 402.41,277.69 402.94,277.74 403.47,277.79 404,277.83 404.53,277.88 405.06,277.92 405.59,277.96 406.12,278 406.65,278.04 407.18,278.07 407.71,278.11 408.23,278.14 408.76,278.17 409.29,278.2 409.82,278.23 410.35,278.26 410.88,278.29 411.41,278.32 411.94,278.35 412.47,278.37 413,278.4 413.53,278.42 414.05,278.45 414.58,278.47 415.11,278.5 415.64,278.52 416.17,278.54 416.7,278.56 417.23,278.58 417.76,278.6 418.29,278.62 418.82,278.64 419.35,278.66 419.87,278.68 420.4,278.7 420.93,278.72 421.46,278.74 421.99,278.76 422.52,278.77 423.05,278.79 423.58,278.81 424.11,278.82 424.64,278.84 425.17,278.86 425.69,278.87 426.22,278.89 426.75,278.9 427.28,278.92 427.81,278.93 428.34,278.94 428.87,278.96 429.4,278.97 429.93,278.99 430.46,279 430.99,279.01 431.51,279.02 432.04,279.04 432.57,279.05 433.1,279.06 433.63,279.07 434.16,279.09 434.69,279.1 435.22,279.11 435.75,279.12 436.28,279.13 436.81,279.14 437.33,279.15 437.86,279.16 438.39,279.17 438.92,279.18 439.45,279.19 439.98,279.21 440.51,279.24 441.04,279.26 441.57,279.29 442.1,279.32 442.63,279.34 443.15,279.37 443.68,279.4 444.21,279.42 444.74,279.45 445.27,279.48 445.8,279.5 446.33,279.53 446.86,279.56 447.39,279.58 447.92,279.61 448.45,279.64 448.97,279.66 449.5,279.69 450.03,279.72 450.56,279.75 451.09,279.77 451.62,279.8 452.15,279.83 452.68,279.85 453.21,279.88 453.74,279.91 454.27,279.94 454.79,279.97 455.32,279.99 455.85,280.02 456.38,280.05 456.91,280.08 457.44,280.11 457.97,280.13 458.5,280.16 459.03,280.19 459.56,280.22 460.09,280.25 460.61,280.28 461.14,280.31 461.67,280.34 462.2,280.37 462.73,280.4 463.26,280.43 463.79,280.46 464.32,280.49 464.85,280.52 465.38,280.56 465.91,280.59 466.43,280.62 466.96,280.65 467.49,280.69 468.02,280.72 468.55,280.76 469.08,280.79 469.61,280.82 470.14,280.86 470.67,280.9 471.2,280.93 471.73,280.97 472.25,281.01 472.78,281.04 473.31,281.08 473.84,281.12 474.37,281.16 474.9,281.2 475.43,281.24 475.96,281.28 476.49,281.32 477.02,281.37 477.55,281.41 478.07,281.45 478.6,281.5 479.13,281.55 479.66,281.59 480.19,281.64 480.72,281.69 481.25,281.74 481.78,281.79 482.31,281.84 482.84,281.89 483.37,281.94 483.89,281.99 484.42,282.05 484.95,282.1 485.48,282.16 486.01,282.22 486.54,282.28 487.07,282.33 487.6,282.4 488.13,282.46 488.66,282.52 489.19,282.58 489.71,282.65 490.24,282.72 490.77,282.79 491.3,282.85 491.83,282.93 492.36,283 492.89,283.07 493.42,283.15 493.95,283.23 494.48,283.31 495.01,283.39 495.53,283.48 496.06,283.57 496.59,283.67 497.12,283.78 497.65,283.9 498.18,284.04 498.71,284.2 499.24,284.4 499.77,284.65 500.3,284.98 500.83,285.41 501.35,286.01 501.88,286.85 502.41,288.04 502.94,289.74 503.47,292.2 504,295.78 504,279.2" fill="#cbcbcb" stroke="#b0b0b0" stroke-width="0.3"/>
<line x1="387.6" y1="279.2" x2="504" y2="279.2" stroke="#9a9a9a" stroke-width="0.4"/>
<text x="387.9" y="261.3" font-size="2.9" fill="#e0303c" textLength="41.9" lengthAdjust="spacingAndGlyphs">'na_pos' (positively correlated)</text>
<text x="427.8" y="278.9" font-size="2.7" fill="#333" textLength="22.7" lengthAdjust="spacingAndGlyphs">Zero cross at 3857</text>
<text x="469.66" y="295.6" font-size="2.9" text-anchor="middle" fill="#3030c0" textLength="43.07" lengthAdjust="spacingAndGlyphs">'na_neg' (negatively correlated)</text>
<polyline points="387.4,181.5 389.25,184.5 391.75,187.5 393.62,188.29 395.5,188.25 397.38,189.33 399.25,189.5 401.12,190.1 403,190.75 404.25,190 406.12,190.42 408,191.5 410.5,193.25 411.93,193.8 413.36,195.98 414.79,196.96 416.21,198.61 417.64,199.32 419.07,201.13 420.5,202 422,202.58 423.5,204.22 425,205.02 426.5,205.48 428,206.5 429.67,207.97 431.33,209.59 433,210.75 434.39,211.57 435.78,213.33 437.17,214.93 438.56,215.42 439.94,217.42 441.33,218.51 442.72,219.98 444.11,220.52 445.5,222 447,222.33 448.5,224.22 450,225.13 451.5,225.52 453,226.5 454.67,226.76 456.33,227.74 458,229 459.88,229.44 461.75,229.5 464.25,227.5 466.12,224.46 468,222 469.88,221.38 471.75,219.5 474.25,216.5 476.75,207 479.25,201.5 481.75,199.5 483.62,198.37 485.5,197 488,193.25 489.88,190.96 491.75,189.5 494.25,184.5 496.12,182.22 498,179.5 500.5,178.25 503,179.5 504.25,180.75" fill="none" stroke="#5fb84c" stroke-width="1.2" stroke-linejoin="round"/>
<rect x="387.2" y="175.6" width="120.8" height="122.4" fill="none" stroke="#1a1a1a" stroke-width="1.3"/>
<line x1="385" y1="230.08" x2="387.2" y2="230.08" stroke="#1a1a1a" stroke-width="0.8"/>
<text x="382.8" y="232.38" font-size="6.5" text-anchor="end">−0.40</text>
<line x1="385" y1="223.97" x2="387.2" y2="223.97" stroke="#1a1a1a" stroke-width="0.8"/>
<text x="382.8" y="226.27" font-size="6.5" text-anchor="end">−0.35</text>
<line x1="385" y1="217.86" x2="387.2" y2="217.86" stroke="#1a1a1a" stroke-width="0.8"/>
<text x="382.8" y="220.16" font-size="6.5" text-anchor="end">−0.30</text>
<line x1="385" y1="211.75" x2="387.2" y2="211.75" stroke="#1a1a1a" stroke-width="0.8"/>
<text x="382.8" y="214.05" font-size="6.5" text-anchor="end">−0.25</text>
<line x1="385" y1="205.64" x2="387.2" y2="205.64" stroke="#1a1a1a" stroke-width="0.8"/>
<text x="382.8" y="207.94" font-size="6.5" text-anchor="end">−0.20</text>
<line x1="385" y1="199.53" x2="387.2" y2="199.53" stroke="#1a1a1a" stroke-width="0.8"/>
<text x="382.8" y="201.83" font-size="6.5" text-anchor="end">−0.15</text>
<line x1="385" y1="193.42" x2="387.2" y2="193.42" stroke="#1a1a1a" stroke-width="0.8"/>
<text x="382.8" y="195.72" font-size="6.5" text-anchor="end">−0.10</text>
<line x1="385" y1="187.31" x2="387.2" y2="187.31" stroke="#1a1a1a" stroke-width="0.8"/>
<text x="382.8" y="189.61" font-size="6.5" text-anchor="end">−0.05</text>
<line x1="385" y1="181.2" x2="387.2" y2="181.2" stroke="#1a1a1a" stroke-width="0.8"/>
<text x="382.8" y="183.5" font-size="6.5" text-anchor="end">0.00</text>
<text x="384.6" y="263.8" font-size="6.5" text-anchor="end">30</text>
<text x="384.6" y="269.7" font-size="6.5" text-anchor="end">20</text>
<text x="384.6" y="275.6" font-size="6.5" text-anchor="end">10</text>
<text x="384.6" y="281.5" font-size="6.5" text-anchor="end">0</text>
<text x="384.6" y="287.4" font-size="6.5" text-anchor="end">−10</text>
<text x="384.6" y="293.3" font-size="6.5" text-anchor="end">−20</text>
<text x="384.6" y="299.2" font-size="6.5" text-anchor="end">−30</text>
<line x1="387.4" y1="298" x2="387.4" y2="299.6" stroke="#1a1a1a" stroke-width="0.8"/>
<text x="387.4" y="304.9" font-size="4.6" text-anchor="middle">0</text>
<line x1="400.8" y1="298" x2="400.8" y2="299.6" stroke="#1a1a1a" stroke-width="0.8"/>
<text x="400.8" y="304.9" font-size="4.6" text-anchor="middle">1,000</text>
<line x1="414.2" y1="298" x2="414.2" y2="299.6" stroke="#1a1a1a" stroke-width="0.8"/>
<text x="414.2" y="304.9" font-size="4.6" text-anchor="middle">2,000</text>
<line x1="427.6" y1="298" x2="427.6" y2="299.6" stroke="#1a1a1a" stroke-width="0.8"/>
<text x="427.6" y="304.9" font-size="4.6" text-anchor="middle">3,000</text>
<line x1="441" y1="298" x2="441" y2="299.6" stroke="#1a1a1a" stroke-width="0.8"/>
<text x="441" y="304.9" font-size="4.6" text-anchor="middle">4,000</text>
<line x1="454.4" y1="298" x2="454.4" y2="299.6" stroke="#1a1a1a" stroke-width="0.8"/>
<text x="454.4" y="304.9" font-size="4.6" text-anchor="middle">5,000</text>
<line x1="467.8" y1="298" x2="467.8" y2="299.6" stroke="#1a1a1a" stroke-width="0.8"/>
<text x="467.8" y="304.9" font-size="4.6" text-anchor="middle">6,000</text>
<line x1="481.2" y1="298" x2="481.2" y2="299.6" stroke="#1a1a1a" stroke-width="0.8"/>
<text x="481.2" y="304.9" font-size="4.6" text-anchor="middle">7,000</text>
<line x1="494.6" y1="298" x2="494.6" y2="299.6" stroke="#1a1a1a" stroke-width="0.8"/>
<text x="494.6" y="304.9" font-size="4.6" text-anchor="middle">8,000</text>
<line x1="508" y1="298" x2="508" y2="299.6" stroke="#1a1a1a" stroke-width="0.8"/>
<text x="508" y="304.9" font-size="4.6" text-anchor="middle">9,000</text>
<text x="447.9" y="170.1" font-size="6.4" text-anchor="middle" textLength="69.8" lengthAdjust="spacingAndGlyphs">HALLMARK_E2F_TARGETS</text>
<text x="409.95" y="222.1" font-size="6.3" text-anchor="middle" textLength="31.3" lengthAdjust="spacingAndGlyphs">NES = −1.69</text>
<text x="410.25" y="228.7" font-size="6.3" text-anchor="middle" textLength="31.9" lengthAdjust="spacingAndGlyphs">FDR = 0.016</text>
<text x="363.32" y="203.8" font-size="7.1" text-anchor="middle" textLength="63.9" lengthAdjust="spacingAndGlyphs" transform="rotate(-90 363.32 203.8)">Enrichment score (ES)</text>
<text x="361.86" y="279.2" font-size="7.1" text-anchor="middle" textLength="45" lengthAdjust="spacingAndGlyphs" transform="rotate(-90 361.86 279.2)">Rank list metric</text>
<text x="370.12" y="279" font-size="7.1" text-anchor="middle" textLength="37" lengthAdjust="spacingAndGlyphs" transform="rotate(-90 370.12 279)">(PreRanked)</text>
<text x="56.2" y="325" font-size="6" text-anchor="middle" fill="#333">1</text>
<text x="97.5" y="325" font-size="6" text-anchor="middle" fill="#333">2</text>
<text x="131.3" y="325" font-size="6" text-anchor="middle" fill="#333">3</text>
<text x="159.3" y="325" font-size="6" text-anchor="middle" fill="#333">4</text>
<text x="188.3" y="325" font-size="6" text-anchor="middle" fill="#333">5</text>
<text x="215.6" y="325" font-size="6" text-anchor="middle" fill="#333">6</text>
<text x="240" y="325" font-size="6" text-anchor="middle" fill="#333">7</text>
<text x="263.8" y="325" font-size="6" text-anchor="middle" fill="#333">8</text>
<text x="284.5" y="325" font-size="6" text-anchor="middle" fill="#333">9</text>
<text x="305.6" y="325" font-size="6" text-anchor="middle" fill="#333">10</text>
<text x="326" y="325" font-size="6" text-anchor="middle" fill="#333">11</text>
<text x="346.3" y="325" font-size="6" text-anchor="middle" fill="#333">12</text>
<text x="365.5" y="325" font-size="6" text-anchor="middle" fill="#333">13</text>
<text x="382.5" y="325" font-size="6" text-anchor="middle" fill="#333">14</text>
<text x="398.8" y="325" font-size="6" text-anchor="middle" fill="#333">15</text>
<text x="411.4" y="325" font-size="6" text-anchor="middle" fill="#333">16</text>
<text x="425.3" y="325" font-size="6" text-anchor="middle" fill="#333">17</text>
<text x="437.5" y="325" font-size="6" text-anchor="middle" fill="#333">18</text>
<text x="448.3" y="325" font-size="6" text-anchor="middle" fill="#333">19</text>
<text x="457" y="325" font-size="6" text-anchor="middle" fill="#333">20</text>
<text x="465.8" y="325" font-size="6" text-anchor="middle" fill="#333">21</text>
<text x="473.8" y="325" font-size="6" text-anchor="middle" fill="#333">22</text>
<text x="489.3" y="325" font-size="6" text-anchor="middle" fill="#333">X</text>
<text x="507.5" y="325" font-size="6" text-anchor="middle" fill="#333">Y</text>
<line x1="77.6" y1="329.6" x2="77.6" y2="453.4" stroke="#555" stroke-width="1"/>
<line x1="114.4" y1="329.6" x2="114.4" y2="453.4" stroke="#555" stroke-width="1"/>
<line x1="145.4" y1="329.6" x2="145.4" y2="453.4" stroke="#555" stroke-width="1"/>
<line x1="174.4" y1="329.6" x2="174.4" y2="453.4" stroke="#555" stroke-width="1"/>
<line x1="202.1" y1="329.6" x2="202.1" y2="453.4" stroke="#555" stroke-width="1"/>
<line x1="228.4" y1="329.6" x2="228.4" y2="453.4" stroke="#555" stroke-width="1"/>
<line x1="252.6" y1="329.6" x2="252.6" y2="453.4" stroke="#555" stroke-width="1"/>
<line x1="274.5" y1="329.6" x2="274.5" y2="453.4" stroke="#555" stroke-width="1"/>
<line x1="295.9" y1="329.6" x2="295.9" y2="453.4" stroke="#555" stroke-width="1"/>
<line x1="316.4" y1="329.6" x2="316.4" y2="453.4" stroke="#555" stroke-width="1"/>
<line x1="336.9" y1="329.6" x2="336.9" y2="453.4" stroke="#555" stroke-width="1"/>
<line x1="357" y1="329.6" x2="357" y2="453.4" stroke="#555" stroke-width="1"/>
<line x1="374.1" y1="329.6" x2="374.1" y2="453.4" stroke="#555" stroke-width="1"/>
<line x1="390.1" y1="329.6" x2="390.1" y2="453.4" stroke="#555" stroke-width="1"/>
<line x1="406.1" y1="329.6" x2="406.1" y2="453.4" stroke="#555" stroke-width="1"/>
<line x1="419.5" y1="329.6" x2="419.5" y2="453.4" stroke="#555" stroke-width="1"/>
<line x1="432" y1="329.6" x2="432" y2="453.4" stroke="#555" stroke-width="1"/>
<line x1="444.3" y1="329.6" x2="444.3" y2="453.4" stroke="#555" stroke-width="1"/>
<line x1="453" y1="329.6" x2="453" y2="453.4" stroke="#555" stroke-width="1"/>
<line x1="462.5" y1="329.6" x2="462.5" y2="453.4" stroke="#555" stroke-width="1"/>
<line x1="469.5" y1="329.6" x2="469.5" y2="453.4" stroke="#555" stroke-width="1"/>
<line x1="504.6" y1="329.6" x2="504.6" y2="453.4" stroke="#555" stroke-width="1"/>
<polygon points="61.1,391.4 61.1,366.5 67.2,366.5 67.2,363.5 74.6,363.5 74.6,366.5 77.3,366.5 77.3,391.4" fill="#c8102e" stroke="none" stroke-width="1"/>
<rect x="252.9" y="385.3" width="21.5" height="6.1" fill="#c8102e"/>
<rect x="259.3" y="385.6" width="0.5" height="4.5" fill="#e8a0a8"/>
<rect x="402.6" y="389" width="0.8" height="2.4" fill="#c8102e"/>
<rect x="502.4" y="388.3" width="2" height="3.1" fill="#c8102e"/>
<rect x="42.12" y="391.4" width="0.96" height="2.6" fill="#1f3f98"/>
<rect x="56.82" y="391.4" width="0.96" height="2.2" fill="#1f3f98"/>
<rect x="79.5" y="391.4" width="4.7" height="4.4" fill="#1f3f98"/>
<rect x="82.52" y="391.4" width="0.96" height="9" fill="#1f3f98"/>
<rect x="90.82" y="391.4" width="0.96" height="2.1" fill="#1f3f98"/>
<rect x="92.82" y="391.4" width="0.96" height="2.1" fill="#1f3f98"/>
<rect x="94.82" y="391.4" width="0.96" height="2.4" fill="#1f3f98"/>
<rect x="96.82" y="391.4" width="0.96" height="2.1" fill="#1f3f98"/>
<rect x="136.5" y="391.4" width="2.5" height="2.1" fill="#1f3f98"/>
<rect x="140" y="391.4" width="4.5" height="4.1" fill="#1f3f98"/>
<rect x="142.12" y="391.4" width="0.96" height="8.8" fill="#1f3f98"/>
<rect x="140.42" y="391.4" width="0.96" height="6.6" fill="#1f3f98"/>
<rect x="159.92" y="391.4" width="0.96" height="2.6" fill="#1f3f98"/>
<rect x="171.5" y="391.4" width="2" height="6.1" fill="#1f3f98"/>
<rect x="182.22" y="391.4" width="0.96" height="8.6" fill="#1f3f98" fill-opacity="0.7"/>
<rect x="194.42" y="391.4" width="0.96" height="4.6" fill="#1f3f98" fill-opacity="0.8"/>
<rect x="196.62" y="391.4" width="0.96" height="3.6" fill="#1f3f98"/>
<rect x="199.4" y="391.4" width="1" height="4.6" fill="#1f3f98"/>
<rect x="209.6" y="391.4" width="11.9" height="3" fill="#1f3f98"/>
<rect x="210.62" y="391.4" width="0.96" height="5.9" fill="#1f3f98"/>
<rect x="212.82" y="391.4" width="0.96" height="5.9" fill="#1f3f98"/>
<rect x="215.62" y="391.4" width="0.96" height="5.9" fill="#1f3f98"/>
<rect x="218.62" y="391.4" width="0.96" height="5.9" fill="#1f3f98"/>
<rect x="225.82" y="391.4" width="0.96" height="1.6" fill="#1f3f98"/>
<rect x="229.8" y="391.4" width="5.8" height="2.6" fill="#1f3f98"/>
<rect x="234.72" y="391.4" width="0.96" height="8.8" fill="#1f3f98"/>
<rect x="251.02" y="391.4" width="0.96" height="1.8" fill="#1f3f98"/>
<rect x="274.6" y="391.4" width="6.2" height="5.5" fill="#1f3f98"/>
<rect x="279.32" y="391.4" width="0.96" height="25.1" fill="#1f3f98" fill-opacity="0.25"/>
<rect x="302.02" y="391.4" width="0.96" height="2.6" fill="#1f3f98"/>
<rect x="304.62" y="391.4" width="0.96" height="2.2" fill="#1f3f98"/>
<rect x="306.72" y="391.4" width="0.96" height="2.6" fill="#1f3f98"/>
<rect x="329.6" y="391.4" width="6.7" height="3" fill="#1f3f98"/>
<rect x="331.52" y="391.4" width="0.96" height="8.8" fill="#1f3f98"/>
<rect x="333.52" y="391.4" width="0.96" height="8.8" fill="#1f3f98"/>
<rect x="336.9" y="391.4" width="4.3" height="3.6" fill="#1f3f98"/>
<rect x="338.52" y="391.4" width="0.96" height="14.6" fill="#1f3f98" fill-opacity="0.8"/>
<rect x="339.82" y="391.4" width="0.96" height="8.1" fill="#1f3f98"/>
<rect x="414.9" y="391.4" width="1.4" height="4.8" fill="#1f3f98"/>
<rect x="432.82" y="391.4" width="0.96" height="2.1" fill="#1f3f98"/>
<rect x="435.02" y="391.4" width="0.96" height="2.1" fill="#1f3f98"/>
<rect x="437.22" y="391.4" width="0.96" height="2.1" fill="#1f3f98"/>
<rect x="439.22" y="391.4" width="0.96" height="2.1" fill="#1f3f98"/>
<rect x="453.62" y="391.4" width="0.96" height="2.1" fill="#1f3f98"/>
<rect x="455.82" y="391.4" width="0.96" height="2.1" fill="#1f3f98"/>
<rect x="458.02" y="391.4" width="0.96" height="2.1" fill="#1f3f98"/>
<rect x="460.42" y="391.4" width="0.96" height="2.6" fill="#1f3f98"/>
<rect x="465.12" y="391.4" width="0.96" height="2.6" fill="#1f3f98"/>
<rect x="471.72" y="391.4" width="0.96" height="26.1" fill="#1f3f98" fill-opacity="0.15"/>
<rect x="481.1" y="391.4" width="7.5" height="3.3" fill="#1f3f98"/>
<rect x="481.1" y="391.4" width="5.8" height="5.9" fill="#1f3f98"/>
<rect x="490.6" y="391.4" width="8.9" height="5.6" fill="#1f3f98"/>
<rect x="499.5" y="391.4" width="4" height="3.1" fill="#1f3f98"/>
<polygon points="285.6,391.4 295.2,391.4 295.2,395 293,395 293,398 291,398 291,402 289.6,402 289.3,409.8 288.6,409.8 288.3,402 287.5,402 287.5,398 286.5,398 286.5,395 285.6,395" fill="#1f3f98" stroke="none" stroke-width="1"/>
<polygon points="360.4,391.4 370.4,391.4 370.4,394.5 369,394.5 369,398 368,398 368,402 366.6,402 366.3,406.9 365.5,406.9 365.2,402 364,402 364,398 362,398 362,394.5 360.4,394.5" fill="#1f3f98" stroke="none" stroke-width="1"/>
<line x1="40" y1="391.4" x2="513" y2="391.4" stroke="#111" stroke-width="1.1" stroke-dasharray="1.1 3.2"/>
<path d="M39.1,329.6 V453.4 H477.2 V329.6 Z" fill="none" stroke="#222" stroke-width="1.5"/>
<rect x="480.6" y="329.6" width="32" height="123.8" rx="1" fill="none" stroke="#222" stroke-width="1.5"/>
<line x1="36.2" y1="329.6" x2="39.1" y2="329.6" stroke="#222" stroke-width="1"/>
<text x="35" y="332" font-size="8.3" text-anchor="end">1.0</text>
<line x1="36.2" y1="360.5" x2="39.1" y2="360.5" stroke="#222" stroke-width="1"/>
<text x="35" y="362.9" font-size="8.3" text-anchor="end">0.5</text>
<line x1="36.2" y1="391.4" x2="39.1" y2="391.4" stroke="#222" stroke-width="1"/>
<text x="35" y="393.8" font-size="8.3" text-anchor="end">0.0</text>
<line x1="36.2" y1="422.3" x2="39.1" y2="422.3" stroke="#222" stroke-width="1"/>
<text x="35" y="424.7" font-size="8.3" text-anchor="end">−0.5</text>
<line x1="36.2" y1="453.2" x2="39.1" y2="453.2" stroke="#222" stroke-width="1"/>
<text x="35" y="455.6" font-size="8.3" text-anchor="end">−1.0</text>
<text x="13.4" y="392.2" font-size="6.6" text-anchor="middle" textLength="76.5" lengthAdjust="spacingAndGlyphs" transform="rotate(-90 13.4 392.2)">Proportion of altered cases</text>
<rect x="115.3" y="403.5" width="26.5" height="6.2" fill="#fff"/>
<text x="128.55" y="409" font-size="6.6" text-anchor="middle" textLength="25.5" lengthAdjust="spacingAndGlyphs">TBL1XR1</text>
<rect x="128.8" y="412.5" width="14.7" height="6.2" fill="#fff"/>
<text x="136.15" y="418" font-size="6.6" text-anchor="middle" textLength="13.7" lengthAdjust="spacingAndGlyphs">TP63</text>
<rect x="229.5" y="402.8" width="16.8" height="6.2" fill="#fff"/>
<text x="237.9" y="408.3" font-size="6.6" text-anchor="middle" textLength="15.8" lengthAdjust="spacingAndGlyphs">IKZF1</text>
<rect x="275.8" y="427.3" width="16.7" height="6.2" fill="#fff"/>
<text x="284.15" y="432.8" font-size="6.6" text-anchor="middle" textLength="15.7" lengthAdjust="spacingAndGlyphs">PAX5</text>
<rect x="337.5" y="416.8" width="15.5" height="6.2" fill="#fff"/>
<text x="345.25" y="422.3" font-size="6.6" text-anchor="middle" textLength="14.5" lengthAdjust="spacingAndGlyphs">ETV6</text>
<rect x="357" y="414.8" width="11" height="6.2" fill="#fff"/>
<text x="362.5" y="420.3" font-size="6.6" text-anchor="middle" textLength="10" lengthAdjust="spacingAndGlyphs">RB1</text>
<rect x="357" y="422.6" width="16" height="6.2" fill="#fff"/>
<text x="365" y="428.1" font-size="6.6" text-anchor="middle" textLength="15" lengthAdjust="spacingAndGlyphs">DLEU</text>
<rect x="407" y="403.8" width="16.5" height="6.2" fill="#fff"/>
<text x="415.25" y="409.3" font-size="6.6" text-anchor="middle" textLength="15.5" lengthAdjust="spacingAndGlyphs">CTCF</text>
<rect x="460.8" y="424.3" width="24.2" height="6.2" fill="#fff"/>
<text x="472.9" y="429.8" font-size="6.6" text-anchor="middle" textLength="23.2" lengthAdjust="spacingAndGlyphs">VPREB1</text>
<rect x="40" y="472.3" width="105.2" height="6.09" fill="#5c226f"/>
<rect x="64.3" y="478.94" width="80.9" height="6.09" fill="#5c226f"/>
<rect x="105" y="485.58" width="40.2" height="6.09" fill="#5c226f"/>
<rect x="105" y="492.22" width="40.2" height="6.09" fill="#5c226f"/>
<rect x="129.5" y="498.86" width="15.7" height="6.09" fill="#5c226f"/>
<rect x="97" y="505.5" width="48.2" height="6.09" fill="#5c226f"/>
<rect x="121.3" y="512.14" width="23.9" height="6.09" fill="#5c226f"/>
<rect x="138" y="518.78" width="7.2" height="6.09" fill="#5c226f"/>
<rect x="97" y="525.42" width="48.2" height="6.09" fill="#5c226f"/>
<rect x="113.3" y="532.06" width="31.9" height="6.09" fill="#5c226f"/>
<rect x="121.3" y="538.7" width="23.9" height="6.09" fill="#5c226f"/>
<rect x="129.5" y="545.34" width="15.7" height="6.09" fill="#5c226f"/>
<rect x="105" y="551.98" width="40.2" height="6.09" fill="#5c226f"/>
<rect x="113.3" y="558.62" width="31.9" height="6.09" fill="#5c226f"/>
<rect x="121.3" y="565.26" width="23.9" height="6.09" fill="#5c226f"/>
<rect x="138" y="571.9" width="7.2" height="6.09" fill="#5c226f"/>
<rect x="138" y="578.54" width="7.2" height="6.09" fill="#5c226f"/>
<rect x="97" y="585.18" width="48.2" height="6.09" fill="#5c226f"/>
<rect x="113.3" y="591.82" width="31.9" height="6.09" fill="#5c226f"/>
<rect x="113.3" y="598.46" width="31.9" height="6.09" fill="#5c226f"/>
<rect x="113.3" y="605.1" width="31.9" height="6.09" fill="#5c226f"/>
<rect x="121.5" y="611.74" width="23.7" height="6.09" fill="#5c226f"/>
<rect x="121.5" y="618.38" width="23.7" height="6.09" fill="#5c226f"/>
<rect x="97" y="625.02" width="48.2" height="6.09" fill="#5c226f"/>
<rect x="105" y="631.66" width="40.2" height="6.09" fill="#5c226f"/>
<rect x="121.5" y="638.3" width="23.7" height="6.09" fill="#5c226f"/>
<rect x="129.5" y="644.94" width="15.7" height="6.09" fill="#5c226f"/>
<rect x="40" y="651.58" width="105.2" height="6.09" fill="#5c226f"/>
<rect x="97" y="658.22" width="48.2" height="6.09" fill="#5c226f"/>
<line x1="40" y1="665.4" x2="146.3" y2="665.4" stroke="#222" stroke-width="1.2"/>
<line x1="40" y1="665.4" x2="40" y2="668.4" stroke="#222" stroke-width="1"/>
<text x="40" y="676.5" font-size="7.9" text-anchor="middle">50</text>
<line x1="61.18" y1="665.4" x2="61.18" y2="668.4" stroke="#222" stroke-width="1"/>
<text x="61.18" y="676.5" font-size="7.9" text-anchor="middle">40</text>
<line x1="82.36" y1="665.4" x2="82.36" y2="668.4" stroke="#222" stroke-width="1"/>
<text x="82.36" y="676.5" font-size="7.9" text-anchor="middle">30</text>
<line x1="103.54" y1="665.4" x2="103.54" y2="668.4" stroke="#222" stroke-width="1"/>
<text x="103.54" y="676.5" font-size="7.9" text-anchor="middle">20</text>
<line x1="124.72" y1="665.4" x2="124.72" y2="668.4" stroke="#222" stroke-width="1"/>
<text x="124.72" y="676.5" font-size="7.9" text-anchor="middle">10</text>
<line x1="145.9" y1="665.4" x2="145.9" y2="668.4" stroke="#222" stroke-width="1"/>
<text x="145.9" y="676.5" font-size="7.9" text-anchor="middle">0</text>
<text x="92.7" y="687.5" font-size="8.4" text-anchor="middle" textLength="54.2" lengthAdjust="spacingAndGlyphs">% Altered cases</text>
<rect x="189.6" y="472.5" width="9.83" height="6.69" fill="#19518b"/>
<rect x="199.38" y="472.5" width="9.83" height="6.69" fill="#19518b"/>
<rect x="209.16" y="472.5" width="9.83" height="6.69" fill="#19518b"/>
<rect x="218.94" y="472.5" width="9.83" height="6.69" fill="#19518b"/>
<rect x="228.72" y="472.5" width="9.83" height="6.69" fill="#19518b"/>
<rect x="238.5" y="472.5" width="9.83" height="6.69" fill="#19518b"/>
<rect x="248.28" y="472.5" width="9.83" height="6.69" fill="#19518b"/>
<rect x="258.06" y="472.5" width="9.83" height="6.69" fill="#19518b"/>
<rect x="267.84" y="472.5" width="9.83" height="6.69" fill="#19518b"/>
<rect x="277.62" y="472.5" width="9.83" height="6.69" fill="#19518b"/>
<rect x="287.4" y="472.5" width="9.83" height="6.69" fill="#19518b"/>
<rect x="297.18" y="472.5" width="9.83" height="6.69" fill="#19518b"/>
<rect x="306.96" y="472.5" width="9.83" height="6.69" fill="#19518b"/>
<rect x="189.6" y="479.14" width="9.83" height="6.69" fill="#19518b"/>
<rect x="199.38" y="479.14" width="9.83" height="6.69" fill="#19518b"/>
<rect x="209.16" y="479.14" width="9.83" height="6.69" fill="#19518b"/>
<rect x="218.94" y="479.14" width="9.83" height="6.69" fill="#19518b"/>
<rect x="228.72" y="479.14" width="9.83" height="6.69" fill="#19518b"/>
<rect x="238.5" y="479.14" width="9.83" height="6.69" fill="#19518b"/>
<rect x="306.96" y="479.14" width="9.83" height="6.69" fill="#19518b"/>
<rect x="316.74" y="479.14" width="9.83" height="6.69" fill="#19518b"/>
<rect x="326.52" y="479.14" width="9.83" height="6.69" fill="#19518b"/>
<rect x="336.3" y="479.14" width="9.83" height="6.69" fill="#19518b"/>
<rect x="189.6" y="485.78" width="9.83" height="6.69" fill="#19518b"/>
<rect x="248.28" y="485.78" width="9.83" height="6.69" fill="#19518b"/>
<rect x="346.08" y="485.78" width="9.83" height="6.69" fill="#19518b"/>
<rect x="355.86" y="485.78" width="9.83" height="6.69" fill="#19518b"/>
<rect x="365.64" y="485.78" width="9.83" height="6.69" fill="#19518b"/>
<rect x="189.6" y="492.42" width="9.83" height="6.69" fill="#19518b"/>
<rect x="199.38" y="492.42" width="9.83" height="6.69" fill="#19518b"/>
<rect x="209.16" y="492.42" width="9.83" height="6.69" fill="#19518b"/>
<rect x="375.42" y="492.42" width="9.83" height="6.69" fill="#19518b"/>
<rect x="385.2" y="492.42" width="9.83" height="6.69" fill="#19518b"/>
<rect x="189.6" y="499.06" width="9.83" height="6.69" fill="#19518b"/>
<rect x="346.08" y="499.06" width="9.83" height="6.69" fill="#19518b"/>
<rect x="189.6" y="505.7" width="9.83" height="6.69" fill="#19518b"/>
<rect x="218.94" y="505.7" width="9.83" height="6.69" fill="#19518b"/>
<rect x="258.06" y="505.7" width="9.83" height="6.69" fill="#19518b"/>
<rect x="306.96" y="505.7" width="9.83" height="6.69" fill="#19518b"/>
<rect x="316.74" y="505.7" width="9.83" height="6.69" fill="#19518b"/>
<rect x="355.86" y="505.7" width="9.83" height="6.69" fill="#19518b"/>
<rect x="228.72" y="512.34" width="9.83" height="6.69" fill="#19518b"/>
<rect x="258.06" y="512.34" width="9.83" height="6.69" fill="#19518b"/>
<rect x="267.84" y="512.34" width="9.83" height="6.69" fill="#19518b"/>
<rect x="394.98" y="518.98" width="9.83" height="6.69" fill="#3db54a"/>
<rect x="218.94" y="525.62" width="9.83" height="6.69" fill="#19518b"/>
<rect x="258.06" y="525.62" width="9.83" height="6.69" fill="#19518b"/>
<rect x="306.96" y="525.62" width="9.83" height="6.69" fill="#19518b"/>
<rect x="316.74" y="525.62" width="9.83" height="6.69" fill="#19518b"/>
<rect x="355.86" y="525.62" width="9.83" height="6.69" fill="#19518b"/>
<rect x="365.64" y="525.62" width="9.83" height="6.69" fill="#19518b"/>
<rect x="218.94" y="532.26" width="9.83" height="6.69" fill="#19518b"/>
<rect x="316.74" y="532.26" width="9.83" height="6.69" fill="#19518b"/>
<rect x="346.08" y="532.26" width="9.83" height="6.69" fill="#19518b"/>
<rect x="375.42" y="532.26" width="9.83" height="6.69" fill="#19518b"/>
<rect x="189.6" y="538.9" width="9.83" height="6.69" fill="#19518b"/>
<rect x="326.52" y="538.9" width="9.83" height="6.69" fill="#19518b"/>
<rect x="375.42" y="538.9" width="9.83" height="6.69" fill="#19518b"/>
<rect x="199.38" y="545.54" width="9.83" height="6.69" fill="#19518b"/>
<rect x="209.16" y="545.54" width="9.83" height="6.69" fill="#19518b"/>
<rect x="189.6" y="552.18" width="9.83" height="6.69" fill="#3db54a"/>
<rect x="277.62" y="552.18" width="9.83" height="6.69" fill="#3db54a"/>
<rect x="287.4" y="552.18" width="9.83" height="6.69" fill="#3db54a"/>
<rect x="394.98" y="552.18" width="9.83" height="6.69" fill="#3db54a"/>
<rect x="404.76" y="552.18" width="9.83" height="6.69" fill="#3db54a"/>
<rect x="277.62" y="558.82" width="9.83" height="6.69" fill="#3db54a"/>
<rect x="297.18" y="558.82" width="9.83" height="6.69" fill="#3db54a"/>
<rect x="355.86" y="558.82" width="9.83" height="6.69" fill="#3db54a"/>
<rect x="404.76" y="558.82" width="9.83" height="6.69" fill="#3db54a"/>
<rect x="199.38" y="565.46" width="9.83" height="6.69" fill="#19518b"/>
<rect x="209.16" y="565.46" width="9.83" height="6.69" fill="#19518b"/>
<rect x="248.28" y="565.46" width="9.83" height="6.69" fill="#19518b"/>
<rect x="326.52" y="572.1" width="9.83" height="6.69" fill="#3db54a"/>
<rect x="394.98" y="578.74" width="9.83" height="6.69" fill="#3db54a"/>
<rect x="306.96" y="592.02" width="9.83" height="6.69" fill="#19518b"/>
<rect x="316.74" y="592.02" width="9.83" height="6.69" fill="#19518b"/>
<rect x="355.86" y="592.02" width="9.83" height="6.69" fill="#19518b"/>
<rect x="365.64" y="592.02" width="9.83" height="6.69" fill="#19518b"/>
<rect x="199.38" y="598.66" width="9.83" height="6.69" fill="#19518b"/>
<rect x="297.18" y="598.66" width="9.83" height="6.69" fill="#19518b"/>
<rect x="326.52" y="598.66" width="9.83" height="6.69" fill="#19518b"/>
<rect x="385.2" y="598.66" width="9.83" height="6.69" fill="#19518b"/>
<rect x="336.3" y="611.94" width="9.83" height="6.69" fill="#19518b"/>
<rect x="385.2" y="611.94" width="9.83" height="6.69" fill="#19518b"/>
<rect x="404.76" y="611.94" width="9.83" height="6.69" fill="#19518b"/>
<rect x="218.94" y="625.22" width="9.83" height="6.69" fill="#19518b"/>
<rect x="316.74" y="625.22" width="9.83" height="6.69" fill="#19518b"/>
<rect x="346.08" y="625.22" width="9.83" height="6.69" fill="#19518b"/>
<rect x="355.86" y="625.22" width="9.83" height="6.69" fill="#19518b"/>
<rect x="365.64" y="625.22" width="9.83" height="6.69" fill="#19518b"/>
<rect x="375.42" y="625.22" width="9.83" height="6.69" fill="#19518b"/>
<rect x="218.94" y="631.86" width="9.83" height="6.69" fill="#3db54a"/>
<rect x="248.28" y="631.86" width="9.83" height="6.69" fill="#3db54a"/>
<rect x="267.84" y="631.86" width="9.83" height="6.69" fill="#3db54a"/>
<rect x="287.4" y="631.86" width="9.83" height="6.69" fill="#3db54a"/>
<rect x="336.3" y="631.86" width="9.83" height="6.69" fill="#3db54a"/>
<rect x="189.6" y="638.5" width="9.83" height="6.69" fill="#19518b"/>
<rect x="316.74" y="638.5" width="9.83" height="6.69" fill="#19518b"/>
<rect x="326.52" y="638.5" width="9.83" height="6.69" fill="#19518b"/>
<rect x="375.42" y="645.14" width="9.83" height="6.69" fill="#19518b"/>
<rect x="394.98" y="645.14" width="9.83" height="6.69" fill="#19518b"/>
<rect x="209.16" y="651.78" width="9.83" height="6.69" fill="#c8102e"/>
<rect x="238.5" y="651.78" width="9.83" height="6.69" fill="#c8102e"/>
<rect x="248.28" y="651.78" width="9.83" height="6.69" fill="#c8102e"/>
<rect x="267.84" y="651.78" width="9.83" height="6.69" fill="#c8102e"/>
<rect x="287.4" y="651.78" width="9.83" height="6.69" fill="#c8102e"/>
<rect x="326.52" y="651.78" width="9.83" height="6.69" fill="#c8102e"/>
<rect x="336.3" y="651.78" width="9.83" height="6.69" fill="#c8102e"/>
<rect x="365.64" y="651.78" width="9.83" height="6.69" fill="#c8102e"/>
<rect x="375.42" y="651.78" width="9.83" height="6.69" fill="#c8102e"/>
<rect x="385.2" y="651.78" width="9.83" height="6.69" fill="#c8102e"/>
<rect x="394.98" y="651.78" width="9.83" height="6.69" fill="#c8102e"/>
<rect x="404.76" y="651.78" width="9.83" height="6.69" fill="#c8102e"/>
<rect x="424.32" y="651.78" width="9.83" height="6.69" fill="#c8102e"/>
<rect x="199.38" y="658.42" width="9.83" height="6.69" fill="#19518b"/>
<rect x="258.06" y="658.42" width="9.83" height="6.69" fill="#19518b"/>
<rect x="267.84" y="658.42" width="9.83" height="6.69" fill="#19518b"/>
<rect x="277.62" y="658.42" width="9.83" height="6.69" fill="#19518b"/>
<rect x="287.4" y="658.42" width="9.83" height="6.69" fill="#19518b"/>
<rect x="316.74" y="658.42" width="9.83" height="6.69" fill="#19518b"/>
<rect x="189.6" y="585.38" width="9.83" height="6.69" fill="#19518b"/>
<rect x="385.2" y="585.38" width="9.83" height="6.69" fill="#19518b"/>
<rect x="228.72" y="585.38" width="9.83" height="6.69" fill="#3db54a"/>
<rect x="248.28" y="585.38" width="9.83" height="6.69" fill="#3db54a"/>
<rect x="336.3" y="585.38" width="9.83" height="6.69" fill="#3db54a"/>
<rect x="394.98" y="585.38" width="9.83" height="6.69" fill="#3db54a"/>
<rect x="189.6" y="605.3" width="9.83" height="6.69" fill="#19518b"/>
<rect x="209.16" y="605.3" width="9.83" height="6.69" fill="#19518b"/>
<rect x="414.54" y="605.3" width="9.83" height="6.69" fill="#19518b"/>
<rect x="287.4" y="605.3" width="9.83" height="6.69" fill="#3db54a"/>
<rect x="189.6" y="618.58" width="9.83" height="6.69" fill="#3db54a"/>
<rect x="385.2" y="618.58" width="9.83" height="6.69" fill="#3db54a"/>
<rect x="218.94" y="618.58" width="9.83" height="6.69" fill="#19518b"/>
<line x1="199.38" y1="472.5" x2="199.38" y2="665.06" stroke="#000" stroke-width="0.6" stroke-opacity="0.4"/>
<line x1="209.16" y1="472.5" x2="209.16" y2="665.06" stroke="#000" stroke-width="0.6" stroke-opacity="0.4"/>
<line x1="218.94" y1="472.5" x2="218.94" y2="665.06" stroke="#000" stroke-width="0.6" stroke-opacity="0.4"/>
<line x1="228.72" y1="472.5" x2="228.72" y2="665.06" stroke="#000" stroke-width="0.6" stroke-opacity="0.4"/>
<line x1="238.5" y1="472.5" x2="238.5" y2="665.06" stroke="#000" stroke-width="0.6" stroke-opacity="0.4"/>
<line x1="248.28" y1="472.5" x2="248.28" y2="665.06" stroke="#000" stroke-width="0.6" stroke-opacity="0.4"/>
<line x1="258.06" y1="472.5" x2="258.06" y2="665.06" stroke="#000" stroke-width="0.6" stroke-opacity="0.4"/>
<line x1="267.84" y1="472.5" x2="267.84" y2="665.06" stroke="#000" stroke-width="0.6" stroke-opacity="0.4"/>
<line x1="277.62" y1="472.5" x2="277.62" y2="665.06" stroke="#000" stroke-width="0.6" stroke-opacity="0.4"/>
<line x1="287.4" y1="472.5" x2="287.4" y2="665.06" stroke="#000" stroke-width="0.6" stroke-opacity="0.4"/>
<line x1="297.18" y1="472.5" x2="297.18" y2="665.06" stroke="#000" stroke-width="0.6" stroke-opacity="0.4"/>
<line x1="306.96" y1="472.5" x2="306.96" y2="665.06" stroke="#000" stroke-width="0.6" stroke-opacity="0.4"/>
<line x1="316.74" y1="472.5" x2="316.74" y2="665.06" stroke="#000" stroke-width="0.6" stroke-opacity="0.4"/>
<line x1="326.52" y1="472.5" x2="326.52" y2="665.06" stroke="#000" stroke-width="0.6" stroke-opacity="0.4"/>
<line x1="336.3" y1="472.5" x2="336.3" y2="665.06" stroke="#000" stroke-width="0.6" stroke-opacity="0.4"/>
<line x1="346.08" y1="472.5" x2="346.08" y2="665.06" stroke="#000" stroke-width="0.6" stroke-opacity="0.4"/>
<line x1="355.86" y1="472.5" x2="355.86" y2="665.06" stroke="#000" stroke-width="0.6" stroke-opacity="0.4"/>
<line x1="365.64" y1="472.5" x2="365.64" y2="665.06" stroke="#000" stroke-width="0.6" stroke-opacity="0.4"/>
<line x1="375.42" y1="472.5" x2="375.42" y2="665.06" stroke="#000" stroke-width="0.6" stroke-opacity="0.4"/>
<line x1="385.2" y1="472.5" x2="385.2" y2="665.06" stroke="#000" stroke-width="0.6" stroke-opacity="0.4"/>
<line x1="394.98" y1="472.5" x2="394.98" y2="665.06" stroke="#000" stroke-width="0.6" stroke-opacity="0.4"/>
<line x1="404.76" y1="472.5" x2="404.76" y2="665.06" stroke="#000" stroke-width="0.6" stroke-opacity="0.4"/>
<line x1="414.54" y1="472.5" x2="414.54" y2="665.06" stroke="#000" stroke-width="0.6" stroke-opacity="0.4"/>
<line x1="424.32" y1="472.5" x2="424.32" y2="665.06" stroke="#000" stroke-width="0.6" stroke-opacity="0.4"/>
<line x1="434.1" y1="472.5" x2="434.1" y2="665.06" stroke="#000" stroke-width="0.6" stroke-opacity="0.4"/>
<line x1="189.6" y1="479.14" x2="443.88" y2="479.14" stroke="#000" stroke-width="0.6" stroke-opacity="0.28"/>
<line x1="189.6" y1="485.78" x2="443.88" y2="485.78" stroke="#000" stroke-width="0.6" stroke-opacity="0.28"/>
<line x1="189.6" y1="492.42" x2="443.88" y2="492.42" stroke="#000" stroke-width="0.6" stroke-opacity="0.28"/>
<line x1="189.6" y1="499.06" x2="443.88" y2="499.06" stroke="#000" stroke-width="0.6" stroke-opacity="0.28"/>
<line x1="189.6" y1="505.7" x2="443.88" y2="505.7" stroke="#000" stroke-width="0.6" stroke-opacity="0.28"/>
<line x1="189.6" y1="512.34" x2="443.88" y2="512.34" stroke="#000" stroke-width="0.6" stroke-opacity="0.28"/>
<line x1="189.6" y1="518.98" x2="443.88" y2="518.98" stroke="#000" stroke-width="0.6" stroke-opacity="0.28"/>
<line x1="189.6" y1="525.62" x2="443.88" y2="525.62" stroke="#000" stroke-width="0.6" stroke-opacity="0.28"/>
<line x1="189.6" y1="532.26" x2="443.88" y2="532.26" stroke="#000" stroke-width="0.6" stroke-opacity="0.28"/>
<line x1="189.6" y1="538.9" x2="443.88" y2="538.9" stroke="#000" stroke-width="0.6" stroke-opacity="0.28"/>
<line x1="189.6" y1="545.54" x2="443.88" y2="545.54" stroke="#000" stroke-width="0.6" stroke-opacity="0.28"/>
<line x1="189.6" y1="552.18" x2="443.88" y2="552.18" stroke="#000" stroke-width="0.6" stroke-opacity="0.28"/>
<line x1="189.6" y1="558.82" x2="443.88" y2="558.82" stroke="#000" stroke-width="0.6" stroke-opacity="0.28"/>
<line x1="189.6" y1="565.46" x2="443.88" y2="565.46" stroke="#000" stroke-width="0.6" stroke-opacity="0.28"/>
<line x1="189.6" y1="572.1" x2="443.88" y2="572.1" stroke="#000" stroke-width="0.6" stroke-opacity="0.28"/>
<line x1="189.6" y1="578.74" x2="443.88" y2="578.74" stroke="#000" stroke-width="0.6" stroke-opacity="0.28"/>
<line x1="189.6" y1="585.38" x2="443.88" y2="585.38" stroke="#000" stroke-width="0.6" stroke-opacity="0.28"/>
<line x1="189.6" y1="592.02" x2="443.88" y2="592.02" stroke="#000" stroke-width="0.6" stroke-opacity="0.28"/>
<line x1="189.6" y1="598.66" x2="443.88" y2="598.66" stroke="#000" stroke-width="0.6" stroke-opacity="0.28"/>
<line x1="189.6" y1="605.3" x2="443.88" y2="605.3" stroke="#000" stroke-width="0.6" stroke-opacity="0.28"/>
<line x1="189.6" y1="611.94" x2="443.88" y2="611.94" stroke="#000" stroke-width="0.6" stroke-opacity="0.28"/>
<line x1="189.6" y1="618.58" x2="443.88" y2="618.58" stroke="#000" stroke-width="0.6" stroke-opacity="0.28"/>
<line x1="189.6" y1="625.22" x2="443.88" y2="625.22" stroke="#000" stroke-width="0.6" stroke-opacity="0.28"/>
<line x1="189.6" y1="631.86" x2="443.88" y2="631.86" stroke="#000" stroke-width="0.6" stroke-opacity="0.28"/>
<line x1="189.6" y1="638.5" x2="443.88" y2="638.5" stroke="#000" stroke-width="0.6" stroke-opacity="0.28"/>
<line x1="189.6" y1="645.14" x2="443.88" y2="645.14" stroke="#000" stroke-width="0.6" stroke-opacity="0.28"/>
<line x1="189.6" y1="651.78" x2="443.88" y2="651.78" stroke="#000" stroke-width="0.6" stroke-opacity="0.28"/>
<line x1="189.6" y1="658.42" x2="443.88" y2="658.42" stroke="#000" stroke-width="0.6" stroke-opacity="0.28"/>
<line x1="189.6" y1="472.5" x2="189.6" y2="665.06" stroke="#8a8a8a" stroke-width="0.55"/>
<line x1="444.18" y1="472.5" x2="444.18" y2="665.06" stroke="#000" stroke-width="0.6" stroke-opacity="0.4"/>
<line x1="146.5" y1="505.7" x2="189.6" y2="505.7" stroke="#cfcfcf" stroke-width="0.6"/>
<line x1="443.88" y1="505.7" x2="490" y2="505.7" stroke="#cfcfcf" stroke-width="0.6"/>
<line x1="146.5" y1="525.62" x2="189.6" y2="525.62" stroke="#cfcfcf" stroke-width="0.6"/>
<line x1="443.88" y1="525.62" x2="490" y2="525.62" stroke="#cfcfcf" stroke-width="0.6"/>
<line x1="146.5" y1="552.18" x2="189.6" y2="552.18" stroke="#cfcfcf" stroke-width="0.6"/>
<line x1="443.88" y1="552.18" x2="490" y2="552.18" stroke="#cfcfcf" stroke-width="0.6"/>
<line x1="146.5" y1="585.38" x2="189.6" y2="585.38" stroke="#cfcfcf" stroke-width="0.6"/>
<line x1="443.88" y1="585.38" x2="490" y2="585.38" stroke="#cfcfcf" stroke-width="0.6"/>
<line x1="146.5" y1="625.22" x2="189.6" y2="625.22" stroke="#cfcfcf" stroke-width="0.6"/>
<line x1="443.88" y1="625.22" x2="490" y2="625.22" stroke="#cfcfcf" stroke-width="0.6"/>
<path d="M146.2,665.06 V472.5 H490.2 V665.06 Z" fill="none" stroke="#1a1a1a" stroke-width="1.3"/>
<line x1="146.2" y1="471.9" x2="146.2" y2="665.66" stroke="#1a1a1a" stroke-width="1.3"/>
<line x1="145.9" y1="665.06" x2="145.9" y2="668.4" stroke="#222" stroke-width="1"/>
<text x="183.4" y="478.57" font-size="6.3" text-anchor="end" textLength="17" lengthAdjust="spacingAndGlyphs">PAX5</text>
<text x="183.4" y="485.23" font-size="6.3" text-anchor="end" textLength="23.9" lengthAdjust="spacingAndGlyphs">VPREB1</text>
<text x="183.4" y="491.9" font-size="6.3" text-anchor="end" textLength="17" lengthAdjust="spacingAndGlyphs">IKZF1</text>
<text x="183.4" y="498.56" font-size="6.3" text-anchor="end" textLength="11.6" lengthAdjust="spacingAndGlyphs">BTK</text>
<text x="183.4" y="505.23" font-size="6.3" text-anchor="end" textLength="14.9" lengthAdjust="spacingAndGlyphs">EBF1</text>
<text x="183.4" y="511.89" font-size="6.3" text-anchor="end" textLength="14.9" lengthAdjust="spacingAndGlyphs">ETV6</text>
<text x="183.4" y="518.56" font-size="6.3" text-anchor="end" textLength="25" lengthAdjust="spacingAndGlyphs">ZFP36L2</text>
<text x="183.4" y="525.22" font-size="6.3" text-anchor="end" textLength="20.9" lengthAdjust="spacingAndGlyphs">RUNX1</text>
<text x="183.4" y="531.89" font-size="6.3" text-anchor="end" textLength="26" lengthAdjust="spacingAndGlyphs">CDKN1B</text>
<text x="183.4" y="538.56" font-size="6.3" text-anchor="end" textLength="11.1" lengthAdjust="spacingAndGlyphs">RB1</text>
<text x="183.4" y="545.22" font-size="6.3" text-anchor="end" textLength="13.8" lengthAdjust="spacingAndGlyphs">TP63</text>
<text x="183.4" y="551.88" font-size="6.3" text-anchor="end" textLength="33.3" lengthAdjust="spacingAndGlyphs">CDKN2A/B</text>
<text x="183.4" y="558.55" font-size="6.3" text-anchor="end" textLength="16.8" lengthAdjust="spacingAndGlyphs">KRAS</text>
<text x="183.4" y="565.22" font-size="6.3" text-anchor="end" textLength="17.3" lengthAdjust="spacingAndGlyphs">NRAS</text>
<text x="183.4" y="571.88" font-size="6.3" text-anchor="end" textLength="20.3" lengthAdjust="spacingAndGlyphs">PTPRD</text>
<text x="183.4" y="578.54" font-size="6.3" text-anchor="end" textLength="14.3" lengthAdjust="spacingAndGlyphs">FLT3</text>
<text x="183.4" y="585.21" font-size="6.3" text-anchor="end" textLength="23.3" lengthAdjust="spacingAndGlyphs">PTPN11</text>
<text x="183.4" y="591.88" font-size="6.3" text-anchor="end" textLength="24.3" lengthAdjust="spacingAndGlyphs">CREBBP</text>
<text x="183.4" y="598.54" font-size="6.3" text-anchor="end" textLength="21.3" lengthAdjust="spacingAndGlyphs">ATF7IP</text>
<text x="183.4" y="605.21" font-size="6.3" text-anchor="end" textLength="22.8" lengthAdjust="spacingAndGlyphs">KDM6A</text>
<text x="183.4" y="611.87" font-size="6.3" text-anchor="end" textLength="23" lengthAdjust="spacingAndGlyphs">ARID1A</text>
<text x="183.4" y="618.53" font-size="6.3" text-anchor="end" textLength="16.4" lengthAdjust="spacingAndGlyphs">CTCF</text>
<text x="183.4" y="625.2" font-size="6.3" text-anchor="end" textLength="27.5" lengthAdjust="spacingAndGlyphs">DNMT3A</text>
<text x="183.4" y="631.87" font-size="6.3" text-anchor="end" textLength="16.4" lengthAdjust="spacingAndGlyphs">DLEU</text>
<text x="183.4" y="638.53" font-size="6.3" text-anchor="end" textLength="20.8" lengthAdjust="spacingAndGlyphs">CXCR4</text>
<text x="183.4" y="645.19" font-size="6.3" text-anchor="end" textLength="26.3" lengthAdjust="spacingAndGlyphs">TBL1XR1</text>
<text x="183.4" y="651.86" font-size="6.3" text-anchor="end" textLength="15.2" lengthAdjust="spacingAndGlyphs">FAT1</text>
<text x="183.4" y="658.52" font-size="6.3" text-anchor="end" textLength="6.6" lengthAdjust="spacingAndGlyphs">1q</text>
<text x="183.4" y="665.19" font-size="6.3" text-anchor="end" textLength="7.5" lengthAdjust="spacingAndGlyphs">9q</text>
<text x="467.4" y="490.6" font-size="6.4" text-anchor="middle">B cell</text>
<text x="467.4" y="514.3" font-size="6.4" text-anchor="middle">Transcription</text>
<text x="467.4" y="520.5" font-size="6.4" text-anchor="middle">factor</text>
<text x="467.4" y="540.1" font-size="6.4" text-anchor="middle">Cell cycle</text>
<text x="467.4" y="570" font-size="6.4" text-anchor="middle">Signaling</text>
<text x="467.4" y="607" font-size="6.4" text-anchor="middle">Epigenetic</text>
<text x="467.4" y="647.7" font-size="6.4" text-anchor="middle">Other</text>
<text x="183.4" y="466" font-size="6" text-anchor="end" fill="#333" textLength="12.2" lengthAdjust="spacingAndGlyphs" font-style="italic">NGS</text>
<text x="183.2" y="471" font-size="6" text-anchor="end" fill="#333" textLength="15.4" lengthAdjust="spacingAndGlyphs" font-style="italic">aCGH</text>
<rect x="189.3" y="461.3" width="253.88" height="3.6" fill="#4a5360"/>
<rect x="189.3" y="464.8" width="49.2" height="3.6" fill="#4a5360"/>
<rect x="248.28" y="464.8" width="39.12" height="3.6" fill="#4a5360"/>
<rect x="316.74" y="464.8" width="107.58" height="3.6" fill="#4a5360"/>
<text x="197.69" y="671.8" font-size="6.9" text-anchor="end" textLength="21.89" lengthAdjust="spacingAndGlyphs" transform="rotate(-45 197.69 671.8)">B_SL43</text>
<text x="207.47" y="671.8" font-size="6.9" text-anchor="end" textLength="30.77" lengthAdjust="spacingAndGlyphs" transform="rotate(-45 207.47 671.8)">CDX2_SL1</text>
<text x="217.25" y="671.8" font-size="6.9" text-anchor="end" textLength="25.31" lengthAdjust="spacingAndGlyphs" transform="rotate(-45 217.25 671.8)">B_SL271</text>
<text x="227.03" y="671.8" font-size="6.9" text-anchor="end" textLength="18.47" lengthAdjust="spacingAndGlyphs" transform="rotate(-45 227.03 671.8)">B_SL7</text>
<text x="236.81" y="671.8" font-size="6.9" text-anchor="end" textLength="25.31" lengthAdjust="spacingAndGlyphs" transform="rotate(-45 236.81 671.8)">B_SL251</text>
<text x="246.59" y="671.8" font-size="6.9" text-anchor="end" textLength="25.31" lengthAdjust="spacingAndGlyphs" transform="rotate(-45 246.59 671.8)">B_SL139</text>
<text x="256.37" y="671.8" font-size="6.9" text-anchor="end" textLength="25.31" lengthAdjust="spacingAndGlyphs" transform="rotate(-45 256.37 671.8)">B_SL187</text>
<text x="266.15" y="671.8" font-size="6.9" text-anchor="end" textLength="25.31" lengthAdjust="spacingAndGlyphs" transform="rotate(-45 266.15 671.8)">B_SL141</text>
<text x="275.93" y="671.8" font-size="6.9" text-anchor="end" textLength="25.31" lengthAdjust="spacingAndGlyphs" transform="rotate(-45 275.93 671.8)">B_SL100</text>
<text x="285.71" y="671.8" font-size="6.9" text-anchor="end" textLength="21.89" lengthAdjust="spacingAndGlyphs" transform="rotate(-45 285.71 671.8)">B_SL73</text>
<text x="295.49" y="671.8" font-size="6.9" text-anchor="end" textLength="25.31" lengthAdjust="spacingAndGlyphs" transform="rotate(-45 295.49 671.8)">B_SL425</text>
<text x="305.27" y="671.8" font-size="6.9" text-anchor="end" textLength="25.31" lengthAdjust="spacingAndGlyphs" transform="rotate(-45 305.27 671.8)">B_SL234</text>
<text x="315.05" y="671.8" font-size="6.9" text-anchor="end" textLength="21.89" lengthAdjust="spacingAndGlyphs" transform="rotate(-45 315.05 671.8)">B_SL39</text>
<text x="324.83" y="671.8" font-size="6.9" text-anchor="end" textLength="21.89" lengthAdjust="spacingAndGlyphs" transform="rotate(-45 324.83 671.8)">B_SL79</text>
<text x="334.61" y="671.8" font-size="6.9" text-anchor="end" textLength="25.31" lengthAdjust="spacingAndGlyphs" transform="rotate(-45 334.61 671.8)">B_SL283</text>
<text x="344.39" y="671.8" font-size="6.9" text-anchor="end" textLength="21.89" lengthAdjust="spacingAndGlyphs" transform="rotate(-45 344.39 671.8)">B_SL49</text>
<text x="354.17" y="671.8" font-size="6.9" text-anchor="end" textLength="30.77" lengthAdjust="spacingAndGlyphs" transform="rotate(-45 354.17 671.8)">CDX2_SL3</text>
<text x="363.95" y="671.8" font-size="6.9" text-anchor="end" textLength="25.31" lengthAdjust="spacingAndGlyphs" transform="rotate(-45 363.95 671.8)">B_SL160</text>
<text x="373.73" y="671.8" font-size="6.9" text-anchor="end" textLength="25.31" lengthAdjust="spacingAndGlyphs" transform="rotate(-45 373.73 671.8)">B_SL327</text>
<text x="383.51" y="671.8" font-size="6.9" text-anchor="end" textLength="25.31" lengthAdjust="spacingAndGlyphs" transform="rotate(-45 383.51 671.8)">B_SL220</text>
<text x="393.29" y="671.8" font-size="6.9" text-anchor="end" textLength="21.89" lengthAdjust="spacingAndGlyphs" transform="rotate(-45 393.29 671.8)">B_SL82</text>
<text x="403.07" y="671.8" font-size="6.9" text-anchor="end" textLength="30.77" lengthAdjust="spacingAndGlyphs" transform="rotate(-45 403.07 671.8)">CDX2_SL2</text>
<text x="412.85" y="671.8" font-size="6.9" text-anchor="end" textLength="25.31" lengthAdjust="spacingAndGlyphs" transform="rotate(-45 412.85 671.8)">B_SL366</text>
<text x="422.63" y="671.8" font-size="6.9" text-anchor="end" textLength="21.89" lengthAdjust="spacingAndGlyphs" transform="rotate(-45 422.63 671.8)">B_SL19</text>
<text x="432.41" y="671.8" font-size="6.9" text-anchor="end" textLength="27.7" lengthAdjust="spacingAndGlyphs" transform="rotate(-45 432.41 671.8)">B_SL168*</text>
<text x="442.19" y="671.8" font-size="6.9" text-anchor="end" textLength="27.7" lengthAdjust="spacingAndGlyphs" transform="rotate(-45 442.19 671.8)">B_SL157*</text>
<rect x="449.2" y="669.5" width="5.9" height="5.1" fill="#19518b"/>
<text x="456.7" y="674.6" font-size="7.4" textLength="26.5" lengthAdjust="spacingAndGlyphs">Deletion</text>
<rect x="449.2" y="677.2" width="5.9" height="5.1" fill="#3db54a"/>
<text x="456.7" y="682.3" font-size="7.4" textLength="29.8" lengthAdjust="spacingAndGlyphs">Mutation</text>
<rect x="449.2" y="684.9" width="5.9" height="5.1" fill="#c8102e"/>
<text x="456.7" y="690" font-size="7.4" textLength="37.7" lengthAdjust="spacingAndGlyphs">Duplication</text>
<text x="6.4" y="14.9" font-size="10.8" fill="#000" font-weight="bold">B</text>
<text x="6.3" y="320.5" font-size="11.2" fill="#000" font-weight="bold">C</text>
<text x="5.9" y="474" font-size="10.8" fill="#000" font-weight="bold">D</text>
<rect x="0.5" y="0.5" width="519" height="700" fill="none" stroke="#000" stroke-width="1.2"/>
</svg></body></html>
